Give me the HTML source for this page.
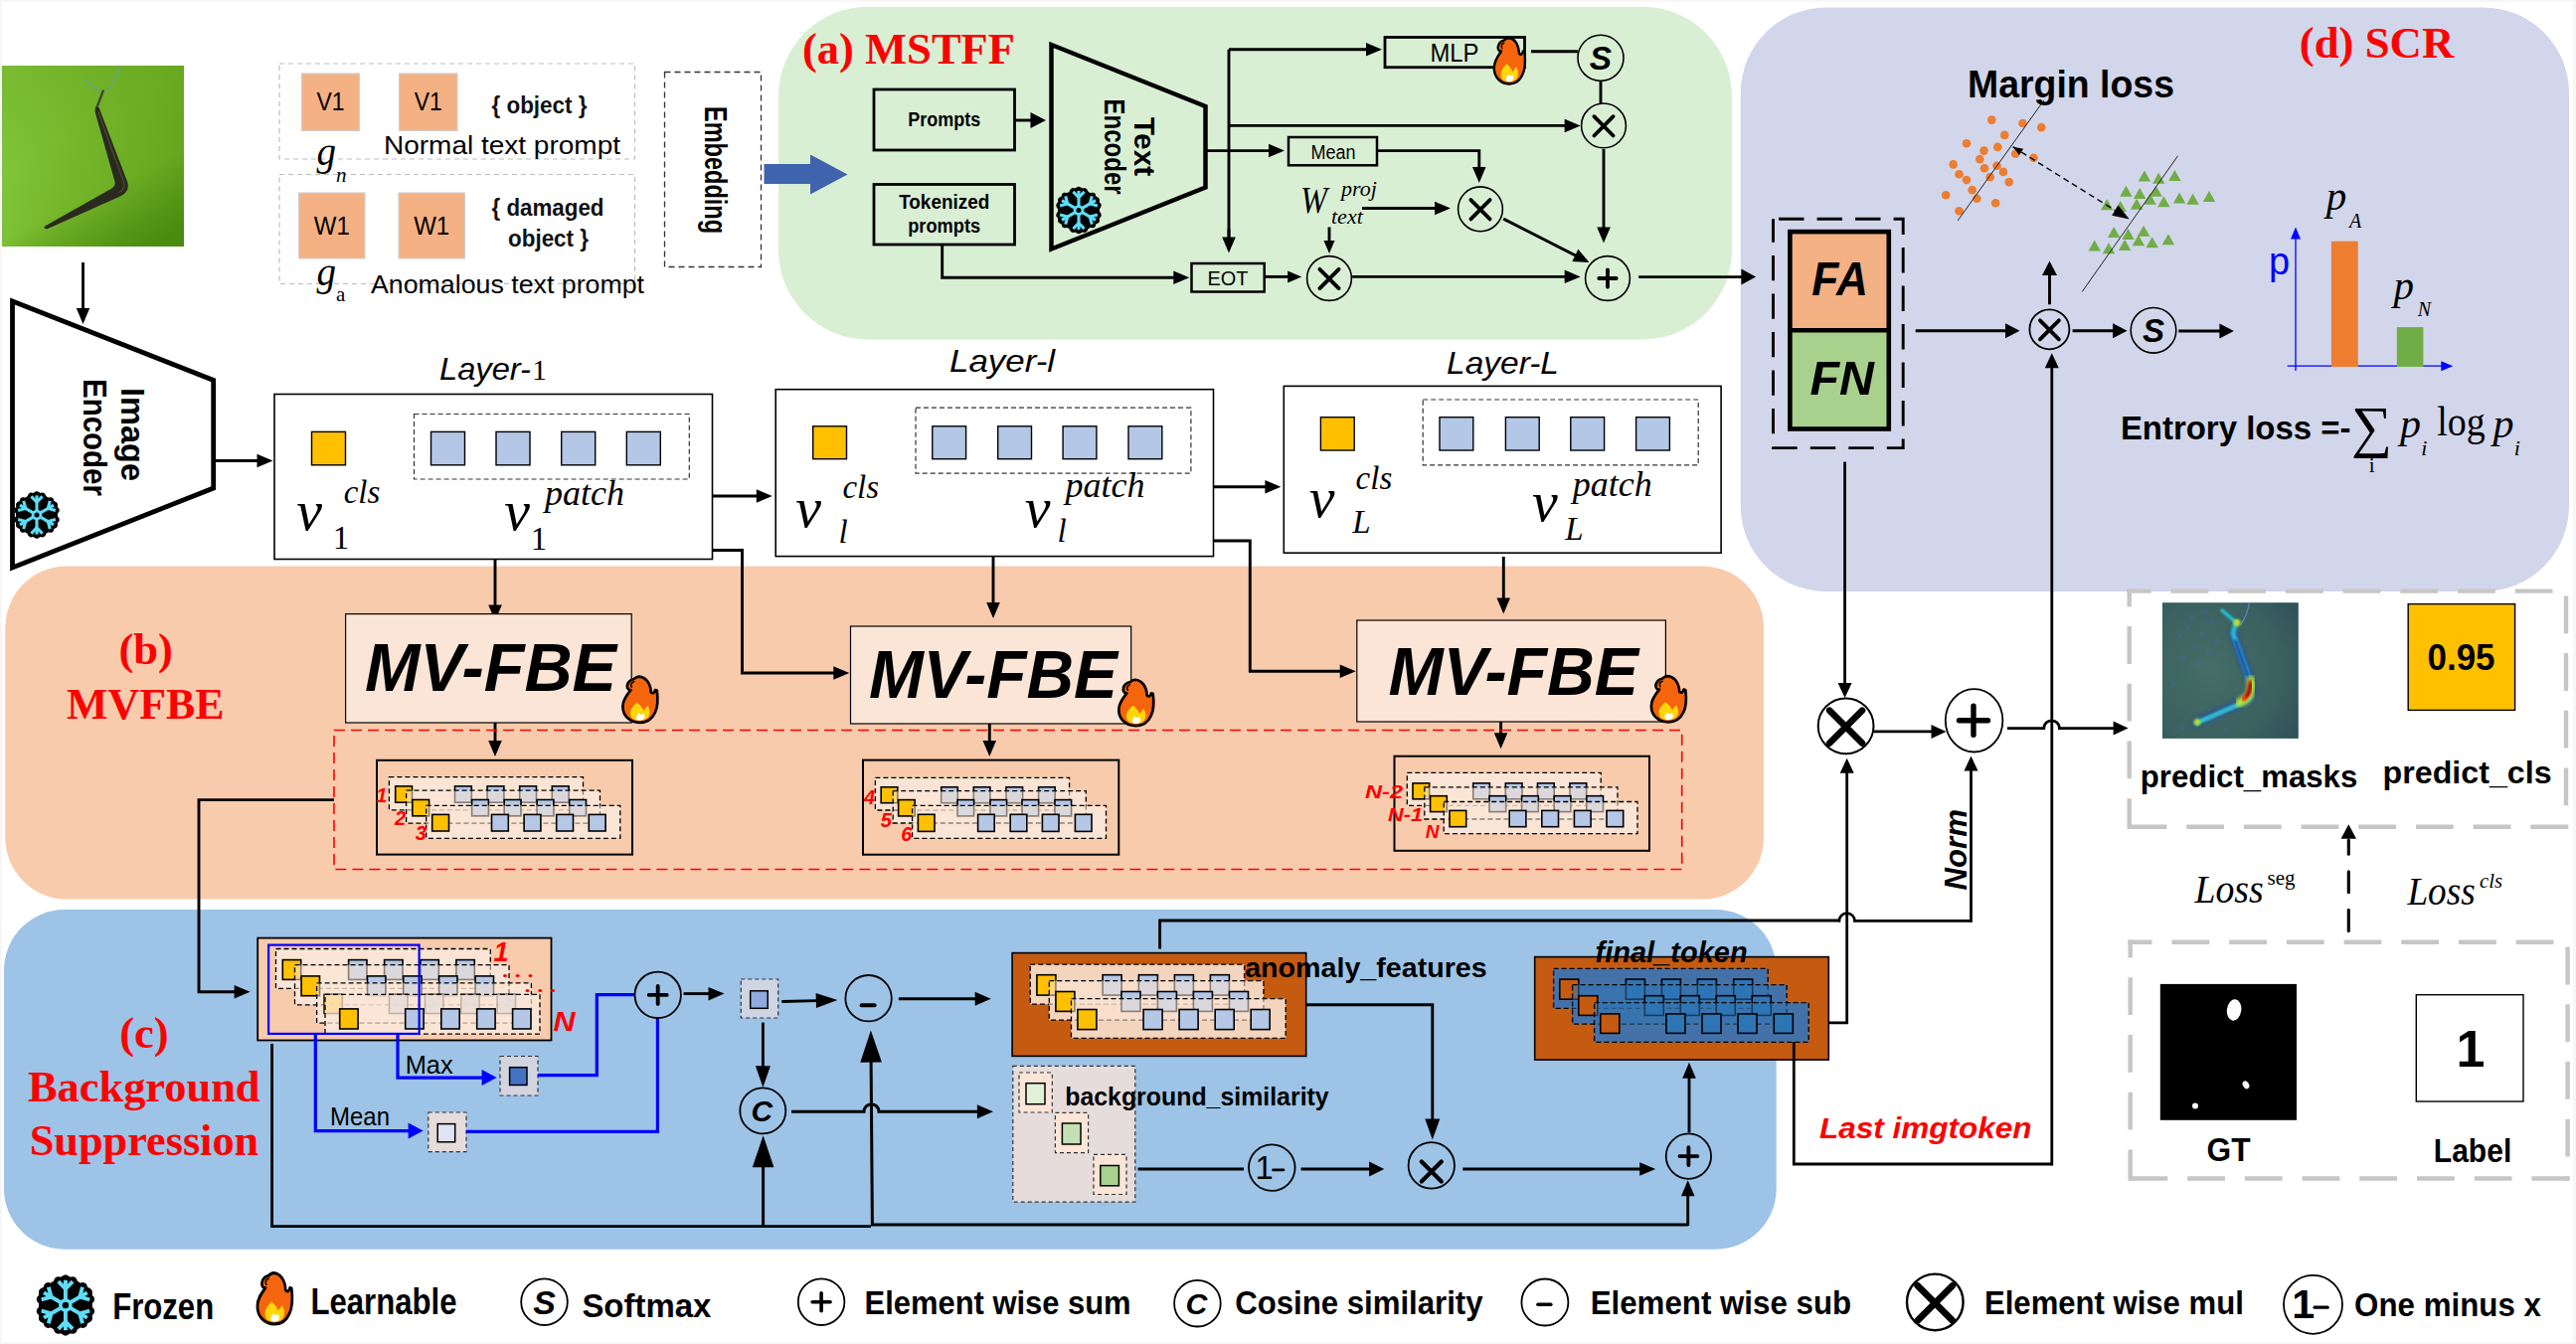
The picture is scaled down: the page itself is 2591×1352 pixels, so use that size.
<!DOCTYPE html>
<html><head><meta charset="utf-8"><title>Framework</title>
<style>
html,body{margin:0;padding:0;background:#fff;}
body{width:2591px;height:1352px;overflow:hidden;font-family:"Liberation Sans",sans-serif;}
svg{display:block}
</style></head><body>
<svg width="2591" height="1352" viewBox="0 0 2591 1352">
<defs>
<linearGradient id="gphoto" x1="0" y1="0.3" x2="1" y2="0.5">
<stop offset="0" stop-color="#84c63c"/><stop offset="0.45" stop-color="#74b52a"/><stop offset="1" stop-color="#66a61f"/>
</linearGradient>
<linearGradient id="gphoto2" x1="0.3" y1="0" x2="0.8" y2="1">
<stop offset="0" stop-color="#5a9a14" stop-opacity="0.25"/><stop offset="0.35" stop-color="#5a9a14" stop-opacity="0"/><stop offset="0.65" stop-color="#3f7f08" stop-opacity="0"/><stop offset="1" stop-color="#3f7f08" stop-opacity="0.7"/>
</linearGradient>
<radialGradient id="gheat" cx="0.35" cy="0.5" r="0.85">
<stop offset="0" stop-color="#456e66"/><stop offset="0.6" stop-color="#3b6160"/><stop offset="1" stop-color="#2d4e58"/>
</radialGradient>
<filter id="blur2" x="-20%" y="-20%" width="140%" height="140%"><feGaussianBlur stdDeviation="2.2"/></filter>
<filter id="blur1" x="-20%" y="-20%" width="140%" height="140%"><feGaussianBlur stdDeviation="1.1"/></filter>
</defs>
<rect x="0" y="0" width="2591" height="1352" fill="#ffffff" />
<rect x="0" y="0" width="1.8" height="1352" fill="#f6f6f6" />
<rect x="0" y="0" width="2591" height="1.8" fill="#f6f6f6" />
<rect x="2588.1" y="0" width="2.9" height="1352" fill="#f6f6f6" />
<rect x="0" y="1350" width="2591" height="2" fill="#f6f6f6" />
<rect x="783" y="6.7" width="959" height="334.9" fill="#d9efd4" rx="90" />
<rect x="1750.8" y="7.5" width="833.2" height="587.5" fill="#d2d6ea" rx="86" />
<rect x="5.3" y="569.4" width="1768.7" height="335.2" fill="#f8cbad" rx="62" />
<rect x="4" y="915" width="1782.7" height="341.7" fill="#9dc3e6" rx="61" />
<rect x="2" y="66" width="183" height="182" fill="url(#gphoto)" />
<rect x="2" y="66" width="183" height="182" fill="url(#gphoto2)" />
<g fill="none" stroke-linecap="round" stroke-linejoin="round">
<path d="M120.5 66.4 C118 76 113 86 106.8 92.4 M85.4 79.4 C90 85 96 90 102.2 92.4" stroke="#63a588" stroke-width="1.5"/>
<path d="M103.7 91.6 L97.4 108" stroke="#3a4a2c" stroke-width="2.4"/>
</g>
<path d="M96 108 L99.5 108 L128.2 183 C130 190 127.5 194 122 197 L47 230.5 L44 229 L46 227 L112.5 189.5 C116 187 116.3 184.5 115 181 L95.5 112 Z" fill="#2b2a1e"/>
<path d="M98.5 112 L124.5 183 C126 188 124 191 120 193.5" fill="none" stroke="#4a4a38" stroke-width="1.3"/>
<polygon points="83.5,326 76.8,310 90.2,310" fill="#000"/>
<polyline points="83.5,264 83.5,311" fill="none" stroke="#000" stroke-width="2.9" />
<polygon points="12.5,303 214.7,382.5 214.7,491 12.5,571" fill="#fff" stroke="#000" stroke-width="4.8" stroke-linejoin="miter"/>
<g transform="translate(134,437) rotate(90)">
<text x="-47" y="11.9" font-family='"Liberation Sans", sans-serif' font-size="33" font-weight="bold" font-style="normal" fill="#000" text-anchor="start" textLength="94" lengthAdjust="spacingAndGlyphs" >Image</text>
</g>
<g transform="translate(96,440) rotate(90)">
<text x="-59" y="11.9" font-family='"Liberation Sans", sans-serif' font-size="33" font-weight="bold" font-style="normal" fill="#000" text-anchor="start" textLength="118" lengthAdjust="spacingAndGlyphs" >Encoder</text>
</g>
<g transform="translate(37,518) scale(0.7)">
<polygon points="26.4,15.2 0,30.5 -26.4,15.2 -26.4,-15.3 -0,-30.5 26.4,-15.3" fill="#000" stroke="#000" stroke-width="7" stroke-linejoin="round"/>
<g transform="rotate(0)" stroke="#000" stroke-width="10" stroke-linecap="round" stroke-linejoin="round" fill="none">
<polyline points="-8,-27 0,-19 8,-27"/>
</g>
<g transform="rotate(60)" stroke="#000" stroke-width="10" stroke-linecap="round" stroke-linejoin="round" fill="none">
<polyline points="-8,-27 0,-19 8,-27"/>
</g>
<g transform="rotate(120)" stroke="#000" stroke-width="10" stroke-linecap="round" stroke-linejoin="round" fill="none">
<polyline points="-8,-27 0,-19 8,-27"/>
</g>
<g transform="rotate(180)" stroke="#000" stroke-width="10" stroke-linecap="round" stroke-linejoin="round" fill="none">
<polyline points="-8,-27 0,-19 8,-27"/>
</g>
<g transform="rotate(240)" stroke="#000" stroke-width="10" stroke-linecap="round" stroke-linejoin="round" fill="none">
<polyline points="-8,-27 0,-19 8,-27"/>
</g>
<g transform="rotate(300)" stroke="#000" stroke-width="10" stroke-linecap="round" stroke-linejoin="round" fill="none">
<polyline points="-8,-27 0,-19 8,-27"/>
</g>
<g transform="rotate(0)" stroke="#5fdcf6" stroke-width="4.4" stroke-linecap="butt" fill="none">
<line x1="0" y1="-6" x2="0" y2="-28"/>
<polyline points="-8,-26.5 0,-18.5 8,-26.5"/>
</g>
<g transform="rotate(60)" stroke="#5fdcf6" stroke-width="4.4" stroke-linecap="butt" fill="none">
<line x1="0" y1="-6" x2="0" y2="-28"/>
<polyline points="-8,-26.5 0,-18.5 8,-26.5"/>
</g>
<g transform="rotate(120)" stroke="#5fdcf6" stroke-width="4.4" stroke-linecap="butt" fill="none">
<line x1="0" y1="-6" x2="0" y2="-28"/>
<polyline points="-8,-26.5 0,-18.5 8,-26.5"/>
</g>
<g transform="rotate(180)" stroke="#5fdcf6" stroke-width="4.4" stroke-linecap="butt" fill="none">
<line x1="0" y1="-6" x2="0" y2="-28"/>
<polyline points="-8,-26.5 0,-18.5 8,-26.5"/>
</g>
<g transform="rotate(240)" stroke="#5fdcf6" stroke-width="4.4" stroke-linecap="butt" fill="none">
<line x1="0" y1="-6" x2="0" y2="-28"/>
<polyline points="-8,-26.5 0,-18.5 8,-26.5"/>
</g>
<g transform="rotate(300)" stroke="#5fdcf6" stroke-width="4.4" stroke-linecap="butt" fill="none">
<line x1="0" y1="-6" x2="0" y2="-28"/>
<polyline points="-8,-26.5 0,-18.5 8,-26.5"/>
</g>
<circle cx="0" cy="0" r="5.6" fill="none" stroke="#5fdcf6" stroke-width="4"/>
</g>
<polygon points="274.5,463.5 258.5,470.2 258.5,456.8" fill="#000"/>
<polyline points="216,463.5 259.5,463.5" fill="none" stroke="#000" stroke-width="2.9" />
<rect x="281" y="64" width="357.5" height="96" fill="none" stroke="#bdbdbd" stroke-width="1.2" stroke-dasharray="5 4" />
<rect x="281" y="175.5" width="357.5" height="110" fill="none" stroke="#bdbdbd" stroke-width="1.2" stroke-dasharray="5 4" />
<rect x="303.5" y="74" width="58" height="57.5" fill="#f4b183" stroke="#cfcfcf" stroke-width="1.2" />
<text x="332.5" y="111" font-family='"Liberation Sans", sans-serif' font-size="25" font-weight="normal" font-style="normal" fill="#000" text-anchor="middle" textLength="28" lengthAdjust="spacingAndGlyphs" >V1</text>
<rect x="401.5" y="74" width="58.5" height="57.5" fill="#f4b183" stroke="#cfcfcf" stroke-width="1.2" />
<text x="430.8" y="111" font-family='"Liberation Sans", sans-serif' font-size="25" font-weight="normal" font-style="normal" fill="#000" text-anchor="middle" textLength="28" lengthAdjust="spacingAndGlyphs" >V1</text>
<rect x="300.5" y="194" width="66.5" height="66" fill="#f4b183" stroke="#cfcfcf" stroke-width="1.2" />
<text x="333.8" y="236" font-family='"Liberation Sans", sans-serif' font-size="25" font-weight="normal" font-style="normal" fill="#000" text-anchor="middle" textLength="36" lengthAdjust="spacingAndGlyphs" >W1</text>
<rect x="401" y="194" width="66.5" height="66" fill="#f4b183" stroke="#cfcfcf" stroke-width="1.2" />
<text x="434.2" y="236" font-family='"Liberation Sans", sans-serif' font-size="25" font-weight="normal" font-style="normal" fill="#000" text-anchor="middle" textLength="36" lengthAdjust="spacingAndGlyphs" >W1</text>
<text x="494.5" y="114" font-family='"Liberation Sans", sans-serif' font-size="23" font-weight="bold" font-style="normal" fill="#111" text-anchor="start" textLength="96" lengthAdjust="spacingAndGlyphs" >{ object }</text>
<text x="386" y="155" font-family='"Liberation Sans", sans-serif' font-size="26" font-weight="normal" font-style="normal" fill="#000" text-anchor="start" textLength="238" lengthAdjust="spacingAndGlyphs" >Normal text prompt</text>
<text x="318.5" y="166" font-family='"Liberation Serif", serif' font-size="39" font-weight="normal" font-style="italic" fill="#000" text-anchor="start" >g</text>
<text x="338" y="183" font-family='"Liberation Serif", serif' font-size="21" font-weight="normal" font-style="italic" fill="#000" text-anchor="start" >n</text>
<text x="494.5" y="217" font-family='"Liberation Sans", sans-serif' font-size="23" font-weight="bold" font-style="normal" fill="#111" text-anchor="start" textLength="113" lengthAdjust="spacingAndGlyphs" >{ damaged</text>
<text x="511" y="248" font-family='"Liberation Sans", sans-serif' font-size="23" font-weight="bold" font-style="normal" fill="#111" text-anchor="start" textLength="81" lengthAdjust="spacingAndGlyphs" >object }</text>
<text x="318.5" y="287" font-family='"Liberation Serif", serif' font-size="39" font-weight="normal" font-style="italic" fill="#000" text-anchor="start" >g</text>
<text x="338" y="303" font-family='"Liberation Serif", serif' font-size="21" font-weight="normal" font-style="normal" fill="#000" text-anchor="start" >a</text>
<text x="373" y="295" font-family='"Liberation Sans", sans-serif' font-size="26" font-weight="normal" font-style="normal" fill="#000" text-anchor="start" textLength="275" lengthAdjust="spacingAndGlyphs" >Anomalous text prompt</text>
<rect x="668.5" y="72.5" width="97" height="196" fill="none" stroke="#333" stroke-width="1.3" stroke-dasharray="6 4" />
<g transform="translate(720.5,171) rotate(90)">
<text x="-64" y="11.2" font-family='"Liberation Sans", sans-serif' font-size="31" font-weight="bold" font-style="normal" fill="#000" text-anchor="start" textLength="128" lengthAdjust="spacingAndGlyphs" >Embedding</text>
</g>
<polygon points="768.5,165 815,165 815,155.5 852.5,175.5 815,195.5 815,185 768.5,185" fill="#3f63ad"/>
<text x="807" y="64.3" font-family='"Liberation Serif", serif' font-size="44.5" font-weight="bold" font-style="normal" fill="#ff0000" text-anchor="start" textLength="214" lengthAdjust="spacingAndGlyphs" >(a) MSTFF</text>
<rect x="879" y="90" width="141.5" height="61" fill="none" stroke="#000" stroke-width="2.8" />
<text x="949.7" y="126.5" font-family='"Liberation Sans", sans-serif' font-size="20" font-weight="bold" font-style="normal" fill="#000" text-anchor="middle" textLength="73" lengthAdjust="spacingAndGlyphs" >Prompts</text>
<rect x="879" y="185.5" width="141.5" height="60.5" fill="none" stroke="#000" stroke-width="2.8" />
<text x="949.7" y="209.5" font-family='"Liberation Sans", sans-serif' font-size="20" font-weight="bold" font-style="normal" fill="#000" text-anchor="middle" textLength="91" lengthAdjust="spacingAndGlyphs" >Tokenized</text>
<text x="949.7" y="234" font-family='"Liberation Sans", sans-serif' font-size="20" font-weight="bold" font-style="normal" fill="#000" text-anchor="middle" textLength="73" lengthAdjust="spacingAndGlyphs" >prompts</text>
<polygon points="1052,121 1036.5,129 1036.5,113" fill="#000"/>
<polyline points="1021,121 1037.5,121" fill="none" stroke="#000" stroke-width="2.9" />
<polygon points="1057.5,45 1212.5,107 1212.5,188.5 1057.5,250.5" fill="none" stroke="#000" stroke-width="4.5"/>
<g transform="translate(1151.5,147.6) rotate(90)">
<text x="-29.5" y="10.4" font-family='"Liberation Sans", sans-serif' font-size="29" font-weight="bold" font-style="normal" fill="#000" text-anchor="start" textLength="59" lengthAdjust="spacingAndGlyphs" >Text</text>
</g>
<g transform="translate(1121,147.6) rotate(90)">
<text x="-48" y="10.4" font-family='"Liberation Sans", sans-serif' font-size="29" font-weight="bold" font-style="normal" fill="#000" text-anchor="start" textLength="96" lengthAdjust="spacingAndGlyphs" >Encoder</text>
</g>
<g transform="translate(1085,211.5) scale(0.7)">
<polygon points="26.4,15.2 0,30.5 -26.4,15.2 -26.4,-15.3 -0,-30.5 26.4,-15.3" fill="#000" stroke="#000" stroke-width="7" stroke-linejoin="round"/>
<g transform="rotate(0)" stroke="#000" stroke-width="10" stroke-linecap="round" stroke-linejoin="round" fill="none">
<polyline points="-8,-27 0,-19 8,-27"/>
</g>
<g transform="rotate(60)" stroke="#000" stroke-width="10" stroke-linecap="round" stroke-linejoin="round" fill="none">
<polyline points="-8,-27 0,-19 8,-27"/>
</g>
<g transform="rotate(120)" stroke="#000" stroke-width="10" stroke-linecap="round" stroke-linejoin="round" fill="none">
<polyline points="-8,-27 0,-19 8,-27"/>
</g>
<g transform="rotate(180)" stroke="#000" stroke-width="10" stroke-linecap="round" stroke-linejoin="round" fill="none">
<polyline points="-8,-27 0,-19 8,-27"/>
</g>
<g transform="rotate(240)" stroke="#000" stroke-width="10" stroke-linecap="round" stroke-linejoin="round" fill="none">
<polyline points="-8,-27 0,-19 8,-27"/>
</g>
<g transform="rotate(300)" stroke="#000" stroke-width="10" stroke-linecap="round" stroke-linejoin="round" fill="none">
<polyline points="-8,-27 0,-19 8,-27"/>
</g>
<g transform="rotate(0)" stroke="#5fdcf6" stroke-width="4.4" stroke-linecap="butt" fill="none">
<line x1="0" y1="-6" x2="0" y2="-28"/>
<polyline points="-8,-26.5 0,-18.5 8,-26.5"/>
</g>
<g transform="rotate(60)" stroke="#5fdcf6" stroke-width="4.4" stroke-linecap="butt" fill="none">
<line x1="0" y1="-6" x2="0" y2="-28"/>
<polyline points="-8,-26.5 0,-18.5 8,-26.5"/>
</g>
<g transform="rotate(120)" stroke="#5fdcf6" stroke-width="4.4" stroke-linecap="butt" fill="none">
<line x1="0" y1="-6" x2="0" y2="-28"/>
<polyline points="-8,-26.5 0,-18.5 8,-26.5"/>
</g>
<g transform="rotate(180)" stroke="#5fdcf6" stroke-width="4.4" stroke-linecap="butt" fill="none">
<line x1="0" y1="-6" x2="0" y2="-28"/>
<polyline points="-8,-26.5 0,-18.5 8,-26.5"/>
</g>
<g transform="rotate(240)" stroke="#5fdcf6" stroke-width="4.4" stroke-linecap="butt" fill="none">
<line x1="0" y1="-6" x2="0" y2="-28"/>
<polyline points="-8,-26.5 0,-18.5 8,-26.5"/>
</g>
<g transform="rotate(300)" stroke="#5fdcf6" stroke-width="4.4" stroke-linecap="butt" fill="none">
<line x1="0" y1="-6" x2="0" y2="-28"/>
<polyline points="-8,-26.5 0,-18.5 8,-26.5"/>
</g>
<circle cx="0" cy="0" r="5.6" fill="none" stroke="#5fdcf6" stroke-width="4"/>
</g>
<polygon points="1292,151.6 1276,158.3 1276,144.8" fill="#000"/>
<polyline points="1213,151.6 1277,151.6" fill="none" stroke="#000" stroke-width="2.9" />
<polyline points="1236,49.7 1236,240" fill="none" stroke="#000" stroke-width="2.9" />
<polygon points="1236,254.6 1229.2,238.6 1242.8,238.6" fill="#000"/>
<polyline points="1236,230 1236,239.6" fill="none" stroke="#000" stroke-width="2.9" />
<polygon points="1390,49.7 1374,56.5 1374,43" fill="#000"/>
<polyline points="1236,49.7 1375,49.7" fill="none" stroke="#000" stroke-width="2.9" />
<polygon points="1589.7,126.4 1573.7,133.2 1573.7,119.7" fill="#000"/>
<polyline points="1236,126.4 1574.7,126.4" fill="none" stroke="#000" stroke-width="2.9" />
<rect x="1393" y="37.5" width="140.5" height="30.2" fill="none" stroke="#000" stroke-width="2.8" />
<text x="1463" y="62" font-family='"Liberation Sans", sans-serif' font-size="25" font-weight="normal" font-style="normal" fill="#000" text-anchor="middle" textLength="49" lengthAdjust="spacingAndGlyphs" >MLP</text>
<g transform="translate(1518,61) scale(0.8,0.9) translate(-20,-27)">
<path d="M19 1.5 C27 2 32 9 32.5 19 C34.5 21 36.5 20 37.3 16.5 L39.2 17 C40.5 27 40 36 37 42 C33.5 49.5 27 53 20 53 C9 53 1 45.5 1 35 C1 27 6 21.5 10 16.5 C7.5 17 5.5 14.5 6 11.5 C6.5 7.5 10 4.8 13 4.5 C15 3 17 1.5 19 1.5 Z" fill="#f5650e" stroke="#000" stroke-width="3" stroke-linejoin="round"/>
<path d="M13.5 7.2 C10.5 8 9.3 11 11 13.2" fill="none" stroke="#000" stroke-width="1.7" stroke-linecap="round"/>
<path d="M17 30.5 C20 33 22.5 35.5 24.5 39.5 C26 37 27.5 36 28.8 34 C32 39 32 45 28 48.5 C24 51.5 15.5 51.5 11.5 48 C7.5 43 9.5 36 17 30.5 Z" fill="#ffd60a"/>
<path d="M19 42.5 C21 44.5 23 44.5 24 42.5 C27 46.5 25 50.5 20 50.5 C15 50.5 15 45.5 19 42.5 Z" fill="#fff"/>
</g>
<polyline points="1540,51.8 1587,51.8" fill="none" stroke="#000" stroke-width="2.9" />
<circle cx="1610" cy="58.3" r="23" fill="none" stroke="#000" stroke-width="1.6"/>
<text x="1610" y="70.3" font-family='"Liberation Sans", sans-serif' font-size="33.4" font-weight="bold" font-style="italic" fill="#000" text-anchor="middle" >S</text>
<polyline points="1610,81.5 1610,104" fill="none" stroke="#000" stroke-width="2.9" />
<circle cx="1613" cy="126.4" r="22.4" fill="none" stroke="#000" stroke-width="1.6"/>
<path d="M1603.4 117.2 L1622.6 136.5 M1622.6 117.2 L1603.4 136.5" stroke="#000" stroke-width="3.8" stroke-linecap="round" fill="none"/>
<rect x="1296" y="138" width="89" height="28.3" fill="none" stroke="#000" stroke-width="2.5" />
<text x="1341" y="159.5" font-family='"Liberation Sans", sans-serif' font-size="20" font-weight="normal" font-style="normal" fill="#000" text-anchor="middle" textLength="45" lengthAdjust="spacingAndGlyphs" >Mean</text>
<polygon points="1487.8,184 1481,168 1494.5,168" fill="#000"/>
<polyline points="1385,151.6 1487.8,151.6 1487.8,169" fill="none" stroke="#000" stroke-width="2.9" />
<circle cx="1489" cy="210.3" r="22.4" fill="none" stroke="#000" stroke-width="1.6"/>
<path d="M1479.4 201.1 L1498.6 220.4 M1498.6 201.1 L1479.4 220.4" stroke="#000" stroke-width="3.8" stroke-linecap="round" fill="none"/>
<text x="1308" y="214" font-family='"Liberation Serif", serif' font-size="37" font-weight="normal" font-style="italic" fill="#000" text-anchor="start" textLength="27" lengthAdjust="spacingAndGlyphs" >W</text>
<text x="1349" y="197" font-family='"Liberation Serif", serif' font-size="22" font-weight="normal" font-style="italic" fill="#000" text-anchor="start" >proj</text>
<text x="1339" y="225" font-family='"Liberation Serif", serif' font-size="22" font-weight="normal" font-style="italic" fill="#000" text-anchor="start" >text</text>
<polygon points="1459,209.5 1443,216.2 1443,202.8" fill="#000"/>
<polyline points="1370,209.5 1444,209.5" fill="none" stroke="#000" stroke-width="2.9" />
<polygon points="1337,255 1331.5,242 1342.5,242" fill="#000"/>
<polyline points="1337,228.5 1337,243" fill="none" stroke="#000" stroke-width="2.9" />
<circle cx="1337" cy="280" r="22.4" fill="none" stroke="#000" stroke-width="1.6"/>
<path d="M1327.4 270.8 L1346.6 290.1 M1346.6 270.8 L1327.4 290.1" stroke="#000" stroke-width="3.8" stroke-linecap="round" fill="none"/>
<rect x="1198.5" y="265" width="73.2" height="28.5" fill="none" stroke="#000" stroke-width="2.5" />
<text x="1235" y="286.5" font-family='"Liberation Sans", sans-serif' font-size="21" font-weight="normal" font-style="normal" fill="#000" text-anchor="middle" textLength="41" lengthAdjust="spacingAndGlyphs" >EOT</text>
<polygon points="1196.3,279.2 1180.3,285.9 1180.3,272.4" fill="#000"/>
<polyline points="947.7,246 947.7,279.2 1181.3,279.2" fill="none" stroke="#000" stroke-width="2.9" />
<polygon points="1309.2,278.4 1295.2,284.4 1295.2,272.4" fill="#000"/>
<polyline points="1273,278.4 1296.2,278.4" fill="none" stroke="#000" stroke-width="2.9" />
<polygon points="1589.7,278.4 1573.7,285.1 1573.7,271.6" fill="#000"/>
<polyline points="1360.2,278.4 1574.7,278.4" fill="none" stroke="#000" stroke-width="2.9" />
<circle cx="1617" cy="280" r="22.4" fill="none" stroke="#000" stroke-width="1.6"/>
<path d="M1608.3 280 L1625.7 280 M1617 271.3 L1617 288.7" stroke="#000" stroke-width="3.8" stroke-linecap="round" fill="none"/>
<polygon points="1613,244.6 1606.2,228.6 1619.8,228.6" fill="#000"/>
<polyline points="1613,150 1613,229.6" fill="none" stroke="#000" stroke-width="2.9" />
<polygon points="1598.6,264.1 1581.3,262.9 1587.4,250.8" fill="#000"/>
<polyline points="1512.2,220.1 1585.2,257.3" fill="none" stroke="#000" stroke-width="2.9" />
<polygon points="1766.1,278.6 1751.4,286.6 1751.4,270.6" fill="#000"/>
<polyline points="1648.2,278.6 1752.4,278.6" fill="none" stroke="#000" stroke-width="2.9" />
<text x="442" y="381.5" font-family='"Liberation Sans", sans-serif' font-size="32" font-weight="normal" font-style="italic" fill="#000" text-anchor="start" textLength="92" lengthAdjust="spacingAndGlyphs" >Layer-</text>
<text x="535" y="381.5" font-family='"Liberation Serif", serif' font-size="30" font-weight="normal" font-style="normal" fill="#000" text-anchor="start" >1</text>
<rect x="276" y="396.5" width="440.5" height="166" fill="#fff" stroke="#000" stroke-width="1.6" />
<rect x="313.5" y="434.4" width="34" height="33.4" fill="#ffc000" stroke="#000" stroke-width="1.4" />
<rect x="416.5" y="416.5" width="276.8" height="65.5" fill="none" stroke="#333" stroke-width="1.2" stroke-dasharray="5 3" />
<rect x="433.5" y="434.4" width="34" height="33.4" fill="#b4c7e7" stroke="#000" stroke-width="1.4" />
<rect x="499" y="434.4" width="34" height="33.4" fill="#b4c7e7" stroke="#000" stroke-width="1.4" />
<rect x="564.7" y="434.4" width="34" height="33.4" fill="#b4c7e7" stroke="#000" stroke-width="1.4" />
<rect x="630.3" y="434.4" width="34" height="33.4" fill="#b4c7e7" stroke="#000" stroke-width="1.4" />
<text x="311" y="533" font-family='"Liberation Serif", serif' font-size="58" font-weight="normal" font-style="italic" fill="#000" text-anchor="middle" >v</text>
<text x="364" y="506" font-family='"Liberation Serif", serif' font-size="33" font-weight="normal" font-style="italic" fill="#000" text-anchor="middle" >cls</text>
<text x="343" y="552" font-family='"Liberation Serif", serif' font-size="33" font-weight="normal" font-style="normal" fill="#000" text-anchor="middle" >1</text>
<text x="520" y="533" font-family='"Liberation Serif", serif' font-size="58" font-weight="normal" font-style="italic" fill="#000" text-anchor="middle" >v</text>
<text x="588" y="508" font-family='"Liberation Serif", serif' font-size="35" font-weight="normal" font-style="italic" fill="#000" text-anchor="middle" textLength="80" lengthAdjust="spacingAndGlyphs" >patch</text>
<text x="542" y="553" font-family='"Liberation Serif", serif' font-size="33" font-weight="normal" font-style="normal" fill="#000" text-anchor="middle" >1</text>
<polygon points="776.8,499 760.8,505.8 760.8,492.2" fill="#000"/>
<polyline points="716.5,499 761.8,499" fill="none" stroke="#000" stroke-width="2.9" />
<text x="955" y="374" font-family='"Liberation Sans", sans-serif' font-size="32" font-weight="normal" font-style="italic" fill="#000" text-anchor="start" textLength="106" lengthAdjust="spacingAndGlyphs" >Layer-l</text>
<rect x="780.2" y="391.7" width="440.3" height="167.9" fill="#fff" stroke="#000" stroke-width="1.6" />
<rect x="817.7" y="428.8" width="33.8" height="32.9" fill="#ffc000" stroke="#000" stroke-width="1.4" />
<rect x="921" y="410.2" width="276.9" height="65.9" fill="none" stroke="#333" stroke-width="1.2" stroke-dasharray="5 3" />
<rect x="937.8" y="428.8" width="33.8" height="32.9" fill="#b4c7e7" stroke="#000" stroke-width="1.4" />
<rect x="1003.7" y="428.8" width="33.8" height="32.9" fill="#b4c7e7" stroke="#000" stroke-width="1.4" />
<rect x="1069.1" y="428.8" width="33.8" height="32.9" fill="#b4c7e7" stroke="#000" stroke-width="1.4" />
<rect x="1135" y="428.8" width="33.8" height="32.9" fill="#b4c7e7" stroke="#000" stroke-width="1.4" />
<text x="813" y="530" font-family='"Liberation Serif", serif' font-size="58" font-weight="normal" font-style="italic" fill="#000" text-anchor="middle" >v</text>
<text x="865.8" y="501" font-family='"Liberation Serif", serif' font-size="33" font-weight="normal" font-style="italic" fill="#000" text-anchor="middle" >cls</text>
<text x="848" y="546" font-family='"Liberation Serif", serif' font-size="33" font-weight="normal" font-style="italic" fill="#000" text-anchor="middle" >l</text>
<text x="1043.6" y="530" font-family='"Liberation Serif", serif' font-size="58" font-weight="normal" font-style="italic" fill="#000" text-anchor="middle" >v</text>
<text x="1111.5" y="500" font-family='"Liberation Serif", serif' font-size="35" font-weight="normal" font-style="italic" fill="#000" text-anchor="middle" textLength="80" lengthAdjust="spacingAndGlyphs" >patch</text>
<text x="1068" y="545" font-family='"Liberation Serif", serif' font-size="33" font-weight="normal" font-style="italic" fill="#000" text-anchor="middle" >l</text>
<polygon points="1288.4,489.7 1272.4,496.4 1272.4,482.9" fill="#000"/>
<polyline points="1220.5,489.7 1273.4,489.7" fill="none" stroke="#000" stroke-width="2.9" />
<text x="1455" y="375.5" font-family='"Liberation Sans", sans-serif' font-size="32" font-weight="normal" font-style="italic" fill="#000" text-anchor="start" textLength="113" lengthAdjust="spacingAndGlyphs" >Layer-L</text>
<rect x="1291.3" y="388.4" width="439.8" height="167.8" fill="#fff" stroke="#000" stroke-width="1.6" />
<rect x="1328.4" y="419.7" width="33.8" height="33.3" fill="#ffc000" stroke="#000" stroke-width="1.4" />
<rect x="1431.2" y="402" width="277" height="65.9" fill="none" stroke="#333" stroke-width="1.2" stroke-dasharray="5 3" />
<rect x="1448" y="419.7" width="33.8" height="33.3" fill="#b4c7e7" stroke="#000" stroke-width="1.4" />
<rect x="1514.4" y="419.7" width="33.8" height="33.3" fill="#b4c7e7" stroke="#000" stroke-width="1.4" />
<rect x="1579.8" y="419.7" width="33.8" height="33.3" fill="#b4c7e7" stroke="#000" stroke-width="1.4" />
<rect x="1645.6" y="419.7" width="33.8" height="33.3" fill="#b4c7e7" stroke="#000" stroke-width="1.4" />
<text x="1329.6" y="520" font-family='"Liberation Serif", serif' font-size="58" font-weight="normal" font-style="italic" fill="#000" text-anchor="middle" >v</text>
<text x="1381.9" y="492" font-family='"Liberation Serif", serif' font-size="33" font-weight="normal" font-style="italic" fill="#000" text-anchor="middle" >cls</text>
<text x="1369.5" y="536" font-family='"Liberation Serif", serif' font-size="33" font-weight="normal" font-style="italic" fill="#000" text-anchor="middle" >L</text>
<text x="1553.9" y="524" font-family='"Liberation Serif", serif' font-size="58" font-weight="normal" font-style="italic" fill="#000" text-anchor="middle" >v</text>
<text x="1621.8" y="499" font-family='"Liberation Serif", serif' font-size="35" font-weight="normal" font-style="italic" fill="#000" text-anchor="middle" textLength="80" lengthAdjust="spacingAndGlyphs" >patch</text>
<text x="1583.5" y="543" font-family='"Liberation Serif", serif' font-size="33" font-weight="normal" font-style="italic" fill="#000" text-anchor="middle" >L</text>
<polygon points="498,624.5 491.2,608.5 504.8,608.5" fill="#000"/>
<polyline points="498,562.5 498,609.5" fill="none" stroke="#000" stroke-width="2.9" />
<polygon points="999,622 992.2,606 1005.8,606" fill="#000"/>
<polyline points="999,559.6 999,607" fill="none" stroke="#000" stroke-width="2.9" />
<polygon points="1512.3,617.5 1505.5,601.5 1519,601.5" fill="#000"/>
<polyline points="1512.3,560 1512.3,602.5" fill="none" stroke="#000" stroke-width="2.9" />
<polygon points="854.3,677 838.3,683.8 838.3,670.2" fill="#000"/>
<polyline points="716.5,553.5 746.5,553.5 746.5,677 839.3,677" fill="none" stroke="#000" stroke-width="2.9" />
<polygon points="1363.7,675.3 1347.7,682 1347.7,668.5" fill="#000"/>
<polyline points="1220.5,544 1257.3,544 1257.3,675.3 1348.7,675.3" fill="none" stroke="#000" stroke-width="2.9" />
<text x="146.7" y="668" font-family='"Liberation Serif", serif' font-size="44.5" font-weight="bold" font-style="normal" fill="#ff0000" text-anchor="middle" >(b)</text>
<text x="67" y="722.5" font-family='"Liberation Serif", serif' font-size="44.5" font-weight="bold" font-style="normal" fill="#ff0000" text-anchor="start" textLength="158.5" lengthAdjust="spacingAndGlyphs" >MVFBE</text>
<rect x="347.6" y="617.6" width="287.6" height="109.4" fill="#fbe5d6" stroke="#000" stroke-width="1.2" />
<text x="367" y="694.5" font-family='"Liberation Sans", sans-serif' font-size="69" font-weight="bold" font-style="italic" fill="#000" text-anchor="start" textLength="253" lengthAdjust="spacingAndGlyphs" >MV-FBE</text>
<rect x="855.5" y="630" width="282.2" height="98" fill="#fbe5d6" stroke="#000" stroke-width="1.2" />
<text x="874" y="701.5" font-family='"Liberation Sans", sans-serif' font-size="69" font-weight="bold" font-style="italic" fill="#000" text-anchor="start" textLength="250" lengthAdjust="spacingAndGlyphs" >MV-FBE</text>
<rect x="1364.8" y="624" width="310.6" height="102" fill="#fbe5d6" stroke="#000" stroke-width="1.2" />
<text x="1396.5" y="699" font-family='"Liberation Sans", sans-serif' font-size="69" font-weight="bold" font-style="italic" fill="#000" text-anchor="start" textLength="251.5" lengthAdjust="spacingAndGlyphs" >MV-FBE</text>
<g transform="translate(643.5,703.5) scale(0.9,0.9) translate(-20,-27)">
<path d="M19 1.5 C27 2 32 9 32.5 19 C34.5 21 36.5 20 37.3 16.5 L39.2 17 C40.5 27 40 36 37 42 C33.5 49.5 27 53 20 53 C9 53 1 45.5 1 35 C1 27 6 21.5 10 16.5 C7.5 17 5.5 14.5 6 11.5 C6.5 7.5 10 4.8 13 4.5 C15 3 17 1.5 19 1.5 Z" fill="#f5650e" stroke="#000" stroke-width="3" stroke-linejoin="round"/>
<path d="M13.5 7.2 C10.5 8 9.3 11 11 13.2" fill="none" stroke="#000" stroke-width="1.7" stroke-linecap="round"/>
<path d="M17 30.5 C20 33 22.5 35.5 24.5 39.5 C26 37 27.5 36 28.8 34 C32 39 32 45 28 48.5 C24 51.5 15.5 51.5 11.5 48 C7.5 43 9.5 36 17 30.5 Z" fill="#ffd60a"/>
<path d="M19 42.5 C21 44.5 23 44.5 24 42.5 C27 46.5 25 50.5 20 50.5 C15 50.5 15 45.5 19 42.5 Z" fill="#fff"/>
</g>
<g transform="translate(1142.4,706.7) scale(0.9,0.9) translate(-20,-27)">
<path d="M19 1.5 C27 2 32 9 32.5 19 C34.5 21 36.5 20 37.3 16.5 L39.2 17 C40.5 27 40 36 37 42 C33.5 49.5 27 53 20 53 C9 53 1 45.5 1 35 C1 27 6 21.5 10 16.5 C7.5 17 5.5 14.5 6 11.5 C6.5 7.5 10 4.8 13 4.5 C15 3 17 1.5 19 1.5 Z" fill="#f5650e" stroke="#000" stroke-width="3" stroke-linejoin="round"/>
<path d="M13.5 7.2 C10.5 8 9.3 11 11 13.2" fill="none" stroke="#000" stroke-width="1.7" stroke-linecap="round"/>
<path d="M17 30.5 C20 33 22.5 35.5 24.5 39.5 C26 37 27.5 36 28.8 34 C32 39 32 45 28 48.5 C24 51.5 15.5 51.5 11.5 48 C7.5 43 9.5 36 17 30.5 Z" fill="#ffd60a"/>
<path d="M19 42.5 C21 44.5 23 44.5 24 42.5 C27 46.5 25 50.5 20 50.5 C15 50.5 15 45.5 19 42.5 Z" fill="#fff"/>
</g>
<g transform="translate(1678,703) scale(0.9,0.9) translate(-20,-27)">
<path d="M19 1.5 C27 2 32 9 32.5 19 C34.5 21 36.5 20 37.3 16.5 L39.2 17 C40.5 27 40 36 37 42 C33.5 49.5 27 53 20 53 C9 53 1 45.5 1 35 C1 27 6 21.5 10 16.5 C7.5 17 5.5 14.5 6 11.5 C6.5 7.5 10 4.8 13 4.5 C15 3 17 1.5 19 1.5 Z" fill="#f5650e" stroke="#000" stroke-width="3" stroke-linejoin="round"/>
<path d="M13.5 7.2 C10.5 8 9.3 11 11 13.2" fill="none" stroke="#000" stroke-width="1.7" stroke-linecap="round"/>
<path d="M17 30.5 C20 33 22.5 35.5 24.5 39.5 C26 37 27.5 36 28.8 34 C32 39 32 45 28 48.5 C24 51.5 15.5 51.5 11.5 48 C7.5 43 9.5 36 17 30.5 Z" fill="#ffd60a"/>
<path d="M19 42.5 C21 44.5 23 44.5 24 42.5 C27 46.5 25 50.5 20 50.5 C15 50.5 15 45.5 19 42.5 Z" fill="#fff"/>
</g>
<polygon points="498,761 491.2,745 504.8,745" fill="#000"/>
<polyline points="498,727 498,746" fill="none" stroke="#000" stroke-width="2.9" />
<polygon points="995.3,761 988.5,745 1002,745" fill="#000"/>
<polyline points="995.3,728 995.3,746" fill="none" stroke="#000" stroke-width="2.9" />
<polygon points="1509.6,753.3 1502.8,737.3 1516.3,737.3" fill="#000"/>
<polyline points="1509.6,726 1509.6,738.3" fill="none" stroke="#000" stroke-width="2.9" />
<rect x="336" y="734.5" width="1355.7" height="140" fill="none" stroke="#ff0000" stroke-width="1.6" stroke-dasharray="11 6" />
<rect x="379" y="764.8" width="257" height="94.8" fill="none" stroke="#000" stroke-width="2" />
<rect x="391.4" y="781.6" width="195.1" height="33.2" fill="#f9e3d4"/>
<rect x="408.6" y="795.2" width="194.9" height="33" fill="#f9e3d4"/>
<rect x="428.7" y="810.4" width="195.1" height="33" fill="#f9e3d4"/>
<rect x="391.4" y="781.6" width="195.1" height="33.2" fill="#fbe5d6" fill-opacity="0.55" stroke="#000" stroke-width="1.3" stroke-dasharray="5 3"/>
<g opacity="1.0">
<rect x="397.7" y="790.9" width="16.8" height="16.3" fill="#ffc000" stroke="#000" stroke-width="1.6" />
<rect x="457.5" y="790.9" width="16.8" height="16.3" fill="#b4c7e7" stroke="#000" stroke-width="1.6" />
<rect x="490.1" y="790.9" width="16.8" height="16.3" fill="#b4c7e7" stroke="#000" stroke-width="1.6" />
<rect x="522.7" y="790.9" width="16.8" height="16.3" fill="#b4c7e7" stroke="#000" stroke-width="1.6" />
<rect x="555.3" y="790.9" width="16.8" height="16.3" fill="#b4c7e7" stroke="#000" stroke-width="1.6" />
</g>
<rect x="408.6" y="795.2" width="194.9" height="33" fill="#fbe5d6" fill-opacity="0.55" stroke="#000" stroke-width="1.3" stroke-dasharray="5 3"/>
<g opacity="1.0">
<rect x="414.8" y="804.5" width="16.8" height="16.3" fill="#ffc000" stroke="#000" stroke-width="1.6" />
<rect x="474.6" y="804.5" width="16.8" height="16.3" fill="#b4c7e7" stroke="#000" stroke-width="1.6" />
<rect x="507.2" y="804.5" width="16.8" height="16.3" fill="#b4c7e7" stroke="#000" stroke-width="1.6" />
<rect x="540.1" y="804.5" width="16.8" height="16.3" fill="#b4c7e7" stroke="#000" stroke-width="1.6" />
<rect x="572.7" y="804.5" width="16.8" height="16.3" fill="#b4c7e7" stroke="#000" stroke-width="1.6" />
</g>
<rect x="428.7" y="810.4" width="195.1" height="33" fill="#fbe5d6" fill-opacity="0.55" stroke="#000" stroke-width="1.3" stroke-dasharray="5 3"/>
<g opacity="1.0">
<rect x="434.7" y="819.4" width="16.8" height="16.6" fill="#ffc000" stroke="#000" stroke-width="1.6" />
<rect x="494.5" y="819.4" width="16.8" height="16.6" fill="#b4c7e7" stroke="#000" stroke-width="1.6" />
<rect x="527.1" y="819.4" width="16.8" height="16.6" fill="#b4c7e7" stroke="#000" stroke-width="1.6" />
<rect x="559.7" y="819.4" width="16.8" height="16.6" fill="#b4c7e7" stroke="#000" stroke-width="1.6" />
<rect x="592.3" y="819.4" width="16.8" height="16.6" fill="#b4c7e7" stroke="#000" stroke-width="1.6" />
</g>
<text x="383.8" y="806.5" font-family='"Liberation Sans", sans-serif' font-size="20" font-weight="bold" font-style="italic" fill="#ff0000" text-anchor="middle" >1</text>
<text x="402.6" y="830" font-family='"Liberation Sans", sans-serif' font-size="20" font-weight="bold" font-style="italic" fill="#ff0000" text-anchor="middle" >2</text>
<text x="423.3" y="845.2" font-family='"Liberation Sans", sans-serif' font-size="20" font-weight="bold" font-style="italic" fill="#ff0000" text-anchor="middle" >3</text>
<rect x="868" y="764.6" width="257.3" height="95.1" fill="none" stroke="#000" stroke-width="2" />
<rect x="880.4" y="782.4" width="195.2" height="32.6" fill="#f9e3d4"/>
<rect x="898.2" y="795.6" width="194.1" height="32.4" fill="#f9e3d4"/>
<rect x="917.6" y="810.4" width="194.9" height="33" fill="#f9e3d4"/>
<rect x="880.4" y="782.4" width="195.2" height="32.6" fill="#fbe5d6" fill-opacity="0.55" stroke="#000" stroke-width="1.3" stroke-dasharray="5 3"/>
<g opacity="1.0">
<rect x="886.2" y="791.8" width="16.6" height="15.9" fill="#ffc000" stroke="#000" stroke-width="1.6" />
<rect x="946.7" y="791.8" width="16.6" height="15.9" fill="#b4c7e7" stroke="#000" stroke-width="1.6" />
<rect x="979.3" y="791.8" width="16.6" height="15.9" fill="#b4c7e7" stroke="#000" stroke-width="1.6" />
<rect x="1012" y="791.8" width="16.6" height="15.9" fill="#b4c7e7" stroke="#000" stroke-width="1.6" />
<rect x="1044.6" y="791.8" width="16.6" height="15.9" fill="#b4c7e7" stroke="#000" stroke-width="1.6" />
</g>
<rect x="898.2" y="795.6" width="194.1" height="32.4" fill="#fbe5d6" fill-opacity="0.55" stroke="#000" stroke-width="1.3" stroke-dasharray="5 3"/>
<g opacity="1.0">
<rect x="903.6" y="804.6" width="16.6" height="16.3" fill="#ffc000" stroke="#000" stroke-width="1.6" />
<rect x="963" y="804.6" width="16.6" height="16.3" fill="#b4c7e7" stroke="#000" stroke-width="1.6" />
<rect x="996" y="804.6" width="16.6" height="16.3" fill="#b4c7e7" stroke="#000" stroke-width="1.6" />
<rect x="1028" y="804.6" width="16.6" height="16.3" fill="#b4c7e7" stroke="#000" stroke-width="1.6" />
<rect x="1061" y="804.6" width="16.6" height="16.3" fill="#b4c7e7" stroke="#000" stroke-width="1.6" />
</g>
<rect x="917.6" y="810.4" width="194.9" height="33" fill="#fbe5d6" fill-opacity="0.55" stroke="#000" stroke-width="1.3" stroke-dasharray="5 3"/>
<g opacity="1.0">
<rect x="923.4" y="819.3" width="16.6" height="17.1" fill="#ffc000" stroke="#000" stroke-width="1.6" />
<rect x="983.6" y="819.3" width="16.6" height="17.1" fill="#b4c7e7" stroke="#000" stroke-width="1.6" />
<rect x="1016.2" y="819.3" width="16.6" height="17.1" fill="#b4c7e7" stroke="#000" stroke-width="1.6" />
<rect x="1048.4" y="819.3" width="16.6" height="17.1" fill="#b4c7e7" stroke="#000" stroke-width="1.6" />
<rect x="1081.4" y="819.3" width="16.6" height="17.1" fill="#b4c7e7" stroke="#000" stroke-width="1.6" />
</g>
<text x="874.5" y="808.5" font-family='"Liberation Sans", sans-serif' font-size="20" font-weight="bold" font-style="italic" fill="#ff0000" text-anchor="middle" >4</text>
<text x="891.2" y="831.8" font-family='"Liberation Sans", sans-serif' font-size="20" font-weight="bold" font-style="italic" fill="#ff0000" text-anchor="middle" >5</text>
<text x="911.8" y="845.7" font-family='"Liberation Sans", sans-serif' font-size="20" font-weight="bold" font-style="italic" fill="#ff0000" text-anchor="middle" >6</text>
<rect x="1402.5" y="760.7" width="256.5" height="95.1" fill="none" stroke="#000" stroke-width="2" />
<rect x="1415.3" y="777.4" width="194.9" height="33" fill="#f9e3d4"/>
<rect x="1432.8" y="791.8" width="194.2" height="32.2" fill="#f9e3d4"/>
<rect x="1452.2" y="806.5" width="194.8" height="32.2" fill="#f9e3d4"/>
<rect x="1415.3" y="777.4" width="194.9" height="33" fill="#fbe5d6" fill-opacity="0.55" stroke="#000" stroke-width="1.3" stroke-dasharray="5 3"/>
<g opacity="1.0">
<rect x="1421" y="787.9" width="16.7" height="15.9" fill="#ffc000" stroke="#000" stroke-width="1.6" />
<rect x="1481.7" y="787.9" width="16.7" height="15.9" fill="#b4c7e7" stroke="#000" stroke-width="1.6" />
<rect x="1514.3" y="787.9" width="16.7" height="15.9" fill="#b4c7e7" stroke="#000" stroke-width="1.6" />
<rect x="1546.5" y="787.9" width="16.7" height="15.9" fill="#b4c7e7" stroke="#000" stroke-width="1.6" />
<rect x="1579" y="787.9" width="16.7" height="15.9" fill="#b4c7e7" stroke="#000" stroke-width="1.6" />
</g>
<rect x="1432.8" y="791.8" width="194.2" height="32.2" fill="#fbe5d6" fill-opacity="0.55" stroke="#000" stroke-width="1.3" stroke-dasharray="5 3"/>
<g opacity="1.0">
<rect x="1438.6" y="800.7" width="16.7" height="15.9" fill="#ffc000" stroke="#000" stroke-width="1.6" />
<rect x="1498" y="800.7" width="16.7" height="15.9" fill="#b4c7e7" stroke="#000" stroke-width="1.6" />
<rect x="1530.6" y="800.7" width="16.7" height="15.9" fill="#b4c7e7" stroke="#000" stroke-width="1.6" />
<rect x="1563.2" y="800.7" width="16.7" height="15.9" fill="#b4c7e7" stroke="#000" stroke-width="1.6" />
<rect x="1595.8" y="800.7" width="16.7" height="15.9" fill="#b4c7e7" stroke="#000" stroke-width="1.6" />
</g>
<rect x="1452.2" y="806.5" width="194.8" height="32.2" fill="#fbe5d6" fill-opacity="0.55" stroke="#000" stroke-width="1.3" stroke-dasharray="5 3"/>
<g opacity="1.0">
<rect x="1458" y="815.4" width="16.7" height="16.3" fill="#ffc000" stroke="#000" stroke-width="1.6" />
<rect x="1518.2" y="815.4" width="16.7" height="16.3" fill="#b4c7e7" stroke="#000" stroke-width="1.6" />
<rect x="1550.8" y="815.4" width="16.7" height="16.3" fill="#b4c7e7" stroke="#000" stroke-width="1.6" />
<rect x="1583.4" y="815.4" width="16.7" height="16.3" fill="#b4c7e7" stroke="#000" stroke-width="1.6" />
<rect x="1616" y="815.4" width="16.7" height="16.3" fill="#b4c7e7" stroke="#000" stroke-width="1.6" />
</g>
<text x="1392" y="802.5" font-family='"Liberation Sans", sans-serif' font-size="19" font-weight="bold" font-style="italic" fill="#ff0000" text-anchor="middle" textLength="38" lengthAdjust="spacingAndGlyphs" >N-2</text>
<text x="1413.5" y="826.3" font-family='"Liberation Sans", sans-serif' font-size="19" font-weight="bold" font-style="italic" fill="#ff0000" text-anchor="middle" textLength="35" lengthAdjust="spacingAndGlyphs" >N-1</text>
<text x="1440.5" y="842.5" font-family='"Liberation Sans", sans-serif' font-size="19" font-weight="bold" font-style="italic" fill="#ff0000" text-anchor="middle" >N</text>
<polygon points="251.6,997.8 235.6,1004.5 235.6,991" fill="#000"/>
<polyline points="336,804.6 200,804.6 200,997.8 236.6,997.8" fill="none" stroke="#000" stroke-width="2.9" />
<text x="145" y="1053.7" font-family='"Liberation Serif", serif' font-size="44.5" font-weight="bold" font-style="normal" fill="#ff0000" text-anchor="middle" >(c)</text>
<text x="28" y="1108" font-family='"Liberation Serif", serif' font-size="44.5" font-weight="bold" font-style="normal" fill="#ff0000" text-anchor="start" textLength="233.5" lengthAdjust="spacingAndGlyphs" >Background</text>
<text x="29.7" y="1162" font-family='"Liberation Serif", serif' font-size="44.5" font-weight="bold" font-style="normal" fill="#ff0000" text-anchor="start" textLength="230.5" lengthAdjust="spacingAndGlyphs" >Suppression</text>
<rect x="259.2" y="943.6" width="295.3" height="102.9" fill="#f8cbad" stroke="#000" stroke-width="1.8" />
<rect x="277.5" y="954.5" width="215.8" height="39.9" fill="#f9e3d4" />
<rect x="296.5" y="970.6" width="215.5" height="40.3" fill="#f9e3d4" />
<rect x="318.6" y="988.9" width="215.8" height="40.2" fill="#f9e3d4" />
<rect x="327" y="1000.3" width="216" height="39.9" fill="#f9e3d4" />
<rect x="277.5" y="954.5" width="215.8" height="39.9" fill="#fbe5d6" fill-opacity="0.55" stroke="#000" stroke-width="1.3" stroke-dasharray="5 3"/>
<g opacity="1.0">
<rect x="284.3" y="965.6" width="18.4" height="19.8" fill="#ffc000" stroke="#000" stroke-width="1.6" />
<rect x="350.6" y="965.6" width="18.4" height="19.8" fill="#b4c7e7" stroke="#000" stroke-width="1.6" />
<rect x="386.6" y="965.6" width="18.4" height="19.8" fill="#b4c7e7" stroke="#000" stroke-width="1.6" />
<rect x="422.9" y="965.6" width="18.4" height="19.8" fill="#b4c7e7" stroke="#000" stroke-width="1.6" />
<rect x="458.9" y="965.6" width="18.4" height="19.8" fill="#b4c7e7" stroke="#000" stroke-width="1.6" />
</g>
<rect x="296.5" y="970.6" width="215.5" height="40.3" fill="#fbe5d6" fill-opacity="0.55" stroke="#000" stroke-width="1.3" stroke-dasharray="5 3"/>
<g opacity="1.0">
<rect x="303.1" y="981.9" width="18.4" height="19.8" fill="#ffc000" stroke="#000" stroke-width="1.6" />
<rect x="369.5" y="981.9" width="18.4" height="19.8" fill="#b4c7e7" stroke="#000" stroke-width="1.6" />
<rect x="405.7" y="981.9" width="18.4" height="19.8" fill="#b4c7e7" stroke="#000" stroke-width="1.6" />
<rect x="441.6" y="981.9" width="18.4" height="19.8" fill="#b4c7e7" stroke="#000" stroke-width="1.6" />
<rect x="478.1" y="981.9" width="18.4" height="19.8" fill="#b4c7e7" stroke="#000" stroke-width="1.6" />
</g>
<rect x="318.6" y="988.9" width="215.8" height="40.2" fill="#fbe5d6" fill-opacity="0.55" stroke="#000" stroke-width="1.3" stroke-dasharray="5 3"/>
<g opacity="0.75">
<rect x="325.9" y="1000.3" width="18.4" height="19.2" fill="#ffc000" stroke="#000" stroke-width="1.6" />
<rect x="391.5" y="1000.3" width="18.4" height="19.2" fill="#b4c7e7" stroke="#000" stroke-width="1.6" />
<rect x="427.5" y="1000.3" width="18.4" height="19.2" fill="#b4c7e7" stroke="#000" stroke-width="1.6" />
<rect x="463.8" y="1000.3" width="18.4" height="19.2" fill="#b4c7e7" stroke="#000" stroke-width="1.6" />
<rect x="500.1" y="1000.3" width="18.4" height="19.2" fill="#b4c7e7" stroke="#000" stroke-width="1.6" />
</g>
<rect x="327" y="1000.3" width="216" height="39.9" fill="#fbe5d6" fill-opacity="0.7" stroke="#000" stroke-width="1.3" stroke-dasharray="5 3"/>
<g opacity="1.0">
<rect x="341.7" y="1014.9" width="18.4" height="20.1" fill="#ffc000" stroke="#000" stroke-width="1.6" />
<rect x="407.7" y="1014.9" width="18.4" height="20.1" fill="#b4c7e7" stroke="#000" stroke-width="1.6" />
<rect x="443.8" y="1014.9" width="18.4" height="20.1" fill="#b4c7e7" stroke="#000" stroke-width="1.6" />
<rect x="479.7" y="1014.9" width="18.4" height="20.1" fill="#b4c7e7" stroke="#000" stroke-width="1.6" />
<rect x="515.6" y="1014.9" width="18.4" height="20.1" fill="#b4c7e7" stroke="#000" stroke-width="1.6" />
</g>
<rect x="270.1" y="950.6" width="151.5" height="89.3" fill="none" stroke="#0000ff" stroke-width="2.2" />
<text x="504.1" y="967" font-family='"Liberation Sans", sans-serif' font-size="27" font-weight="bold" font-style="italic" fill="#ff0000" text-anchor="middle" >1</text>
<ellipse cx="508" cy="981.5" rx="2" ry="1.5" fill="#ff0000"/>
<ellipse cx="520.6" cy="981.5" rx="2" ry="1.5" fill="#ff0000"/>
<ellipse cx="533.5" cy="981.5" rx="2" ry="1.5" fill="#ff0000"/>
<ellipse cx="530.5" cy="996.4" rx="2" ry="1.5" fill="#ff0000"/>
<ellipse cx="543.3" cy="996.4" rx="2" ry="1.5" fill="#ff0000"/>
<ellipse cx="556" cy="996.4" rx="2" ry="1.5" fill="#ff0000"/>
<text x="567.4" y="1036.5" font-family='"Liberation Sans", sans-serif' font-size="28" font-weight="bold" font-style="italic" fill="#ff0000" text-anchor="middle" textLength="22" lengthAdjust="spacingAndGlyphs" >N</text>
<polyline points="273.6,1050 273.6,1233.7 876,1233.7" fill="none" stroke="#000" stroke-width="2.8" />
<polyline points="876,1232 1697.7,1232" fill="none" stroke="#000" stroke-width="2.8" />
<polygon points="499.6,1084.1 484.6,1092.1 484.6,1076.1" fill="#0000ff"/>
<polyline points="400,1039.8 400,1084.1 485.6,1084.1" fill="none" stroke="#0000ff" stroke-width="3.2" />
<text x="407.7" y="1080" font-family='"Liberation Sans", sans-serif' font-size="25" font-weight="normal" font-style="normal" fill="#000" text-anchor="start" textLength="48" lengthAdjust="spacingAndGlyphs" >Max</text>
<polygon points="425.6,1137.6 410.6,1145.6 410.6,1129.6" fill="#0000ff"/>
<polyline points="317.3,1039.8 317.3,1137.6 411.6,1137.6" fill="none" stroke="#0000ff" stroke-width="3.2" />
<text x="332" y="1131.5" font-family='"Liberation Sans", sans-serif' font-size="25" font-weight="normal" font-style="normal" fill="#000" text-anchor="start" textLength="60" lengthAdjust="spacingAndGlyphs" >Mean</text>
<rect x="503" y="1062.5" width="38" height="39.5" fill="#d2d5e0" stroke="#333" stroke-width="1.2" stroke-dasharray="4 3" />
<rect x="512.6" y="1073.7" width="17.4" height="17.8" fill="#4472c4" stroke="#000" stroke-width="1.5" />
<rect x="430.8" y="1119" width="38.2" height="39.6" fill="#e5dcdb" stroke="#333" stroke-width="1.2" stroke-dasharray="4 3" />
<rect x="440.2" y="1130.6" width="17.5" height="18.2" fill="#dfe3f3" stroke="#000" stroke-width="1.5" />
<polyline points="541,1081.7 600.3,1081.7 600.3,1000.6 638.7,1000.6" fill="none" stroke="#0000ff" stroke-width="3.2" />
<polyline points="469,1138.3 661.4,1138.3 661.4,1023.3" fill="none" stroke="#0000ff" stroke-width="3.2" />
<circle cx="661.7" cy="1000.9" r="23.2" fill="none" stroke="#000" stroke-width="1.8"/>
<path d="M652.7 1000.9 L670.7 1000.9 M661.7 991.9 L661.7 1009.9" stroke="#000" stroke-width="3.9" stroke-linecap="round" fill="none"/>
<polygon points="728.5,999.6 712.5,1006.4 712.5,992.9" fill="#000"/>
<polyline points="687.6,999.6 713.5,999.6" fill="none" stroke="#000" stroke-width="2.9" />
<rect x="745.3" y="985" width="37.4" height="39" fill="#cfd5e3" stroke="#333" stroke-width="1.2" stroke-dasharray="4 3" />
<rect x="754.7" y="996.8" width="17.5" height="17.5" fill="#8faadc" stroke="#000" stroke-width="1.5" />
<polygon points="842.4,1006 821,1014.1 820.6,999.1" fill="#000"/>
<polyline points="786.3,1007.5 821.8,1006.6" fill="none" stroke="#000" stroke-width="2.9" />
<circle cx="873.6" cy="1004.2" r="23.2" fill="none" stroke="#000" stroke-width="1.8"/>
<path d="M866.6 1011.2 L879.6 1011.2" stroke="#000" stroke-width="3.9" stroke-linecap="round"/>
<polygon points="767.4,1093.8 759.9,1072.2 774.9,1072.2" fill="#000"/>
<polyline points="767.4,1028.6 767.4,1073.2" fill="none" stroke="#000" stroke-width="2.9" />
<circle cx="767.3" cy="1117.4" r="23" fill="none" stroke="#000" stroke-width="1.8"/>
<text x="766.3" y="1128.2" font-family='"Liberation Sans", sans-serif' font-size="29.9" font-weight="bold" font-style="italic" fill="#000" text-anchor="middle" >C</text>
<polygon points="767.6,1142.3 778.4,1174.3 756.8,1174.3" fill="#000"/>
<polyline points="767.6,1233 767.6,1173.3" fill="none" stroke="#000" stroke-width="3" />
<polygon points="875.9,1036.6 886.9,1068.5 865.3,1068.7" fill="#000"/>
<polyline points="877.4,1233 876.1,1067.6" fill="none" stroke="#000" stroke-width="3" />
<path d="M796 1118.2 L869 1118.2 A7.5 7.5 0 0 1 884 1118.2 L986 1118.2" fill="none" stroke="#000" stroke-width="2.9"/>
<polygon points="998.9,1118.2 982.9,1125.2 982.9,1111.2" fill="#000"/>
<polygon points="996.7,1004.7 980.7,1011.7 980.7,997.7" fill="#000"/>
<polyline points="903.9,1004.7 981.7,1004.7" fill="none" stroke="#000" stroke-width="2.9" />
<rect x="1018.1" y="958.6" width="295.6" height="103.8" fill="#c55a11" stroke="#000" stroke-width="1.6" />
<rect x="1036.3" y="970.2" width="215.3" height="40" fill="#e9c1a3"/>
<rect x="1055.3" y="986.6" width="215.6" height="39.5" fill="#e9c1a3"/>
<rect x="1077.5" y="1004.6" width="215.7" height="39.7" fill="#e9c1a3"/>
<rect x="1036.3" y="970.2" width="215.3" height="40" fill="#fbe5d6" fill-opacity="0.55" stroke="#000" stroke-width="1.3" stroke-dasharray="5 3"/>
<g opacity="1.0">
<rect x="1042.9" y="980.7" width="19" height="20.4" fill="#ffc000" stroke="#000" stroke-width="1.6" />
<rect x="1109.1" y="980.7" width="19" height="20.4" fill="#b4c7e7" stroke="#000" stroke-width="1.6" />
<rect x="1145.4" y="980.7" width="19" height="20.4" fill="#b4c7e7" stroke="#000" stroke-width="1.6" />
<rect x="1181.4" y="980.7" width="19" height="20.4" fill="#b4c7e7" stroke="#000" stroke-width="1.6" />
<rect x="1217.4" y="980.7" width="19" height="20.4" fill="#b4c7e7" stroke="#000" stroke-width="1.6" />
</g>
<rect x="1055.3" y="986.6" width="215.6" height="39.5" fill="#fbe5d6" fill-opacity="0.55" stroke="#000" stroke-width="1.3" stroke-dasharray="5 3"/>
<g opacity="1.0">
<rect x="1061.9" y="997.5" width="19" height="19.9" fill="#ffc000" stroke="#000" stroke-width="1.6" />
<rect x="1128" y="997.5" width="19" height="19.9" fill="#b4c7e7" stroke="#000" stroke-width="1.6" />
<rect x="1164.4" y="997.5" width="19" height="19.9" fill="#b4c7e7" stroke="#000" stroke-width="1.6" />
<rect x="1200.4" y="997.5" width="19" height="19.9" fill="#b4c7e7" stroke="#000" stroke-width="1.6" />
<rect x="1236.5" y="997.5" width="19" height="19.9" fill="#b4c7e7" stroke="#000" stroke-width="1.6" />
</g>
<rect x="1077.5" y="1004.6" width="215.7" height="39.7" fill="#fbe5d6" fill-opacity="0.55" stroke="#000" stroke-width="1.3" stroke-dasharray="5 3"/>
<g opacity="1.0">
<rect x="1083.9" y="1015.5" width="19" height="20.1" fill="#ffc000" stroke="#000" stroke-width="1.6" />
<rect x="1150.1" y="1015.5" width="19" height="20.1" fill="#b4c7e7" stroke="#000" stroke-width="1.6" />
<rect x="1186.1" y="1015.5" width="19" height="20.1" fill="#b4c7e7" stroke="#000" stroke-width="1.6" />
<rect x="1222.2" y="1015.5" width="19" height="20.1" fill="#b4c7e7" stroke="#000" stroke-width="1.6" />
<rect x="1258.2" y="1015.5" width="19" height="20.1" fill="#b4c7e7" stroke="#000" stroke-width="1.6" />
</g>
<text x="1252.2" y="983.2" font-family='"Liberation Sans", sans-serif' font-size="28" font-weight="bold" font-style="normal" fill="#000" text-anchor="start" textLength="243.5" lengthAdjust="spacingAndGlyphs" >anomaly_features</text>
<polyline points="1166.6,954.5 1166.6,926 1849,926" fill="none" stroke="#000" stroke-width="2.9" />
<polygon points="1440.8,1146.5 1433.3,1125.5 1448.3,1125.5" fill="#000"/>
<polyline points="1314,1010.8 1440.8,1010.8 1440.8,1126.5" fill="none" stroke="#000" stroke-width="2.9" />
<circle cx="1439.8" cy="1172.4" r="23.2" fill="none" stroke="#000" stroke-width="1.8"/>
<path d="M1429.8 1168.4 L1449.8 1188.4 M1449.8 1168.4 L1429.8 1188.4" stroke="#000" stroke-width="4.2" stroke-linecap="round" fill="none"/>
<rect x="1018.8" y="1072.3" width="123" height="136.9" fill="#e5dcdb" stroke="#333" stroke-width="1.2" stroke-dasharray="4 3" />
<rect x="1025" y="1079" width="33.3" height="40" fill="#fbe5d6" stroke="#333" stroke-width="1.2" stroke-dasharray="4 3" />
<rect x="1032" y="1089.7" width="19" height="21" fill="#e2f0d9" stroke="#000" stroke-width="1.5" />
<rect x="1061.4" y="1119.4" width="33.2" height="40.2" fill="#fbe5d6" stroke="#333" stroke-width="1.2" stroke-dasharray="4 3" />
<rect x="1068.4" y="1130" width="18.6" height="21" fill="#c5e0b4" stroke="#000" stroke-width="1.5" />
<rect x="1100" y="1161.4" width="33" height="40.1" fill="#fbe5d6" stroke="#333" stroke-width="1.2" stroke-dasharray="4 3" />
<rect x="1106.8" y="1172.5" width="18.6" height="20.3" fill="#a9d18e" stroke="#000" stroke-width="1.5" />
<text x="1071.2" y="1112.4" font-family='"Liberation Sans", sans-serif' font-size="26" font-weight="bold" font-style="normal" fill="#000" text-anchor="start" textLength="265.5" lengthAdjust="spacingAndGlyphs" >background_similarity</text>
<polyline points="1144.6,1176 1251,1176" fill="none" stroke="#000" stroke-width="2.9" />
<circle cx="1279.3" cy="1174.6" r="23.3" fill="none" stroke="#000" stroke-width="1.8"/>
<text x="1262.5" y="1185.7" font-family='"Liberation Sans", sans-serif' font-size="32.6" font-weight="normal" font-style="normal" fill="#000" text-anchor="start" >1</text>
<path d="M1280.5 1176.9 L1291 1176.9" stroke="#000" stroke-width="2.6" stroke-linecap="round"/>
<polygon points="1392.3,1176 1377.1,1183.6 1377.1,1168.4" fill="#000"/>
<polyline points="1308.6,1176 1378.1,1176" fill="none" stroke="#000" stroke-width="2.9" />
<polygon points="1665.2,1176 1649.2,1182.8 1649.2,1169.2" fill="#000"/>
<polyline points="1471.3,1176 1650.2,1176" fill="none" stroke="#000" stroke-width="2.9" />
<circle cx="1698.4" cy="1163.1" r="22.7" fill="none" stroke="#000" stroke-width="1.8"/>
<path d="M1689.5 1163.1 L1707.3 1163.1 M1698.4 1154.2 L1698.4 1172" stroke="#000" stroke-width="3.9" stroke-linecap="round" fill="none"/>
<polygon points="1699,1068.8 1705.8,1084.8 1692.2,1084.8" fill="#000"/>
<polyline points="1699,1139.3 1699,1083.8" fill="none" stroke="#000" stroke-width="2.9" />
<polygon points="1697.7,1187.2 1704.5,1203.2 1691,1203.2" fill="#000"/>
<polyline points="1697.7,1233 1697.7,1202.2" fill="none" stroke="#000" stroke-width="2.9" />
<rect x="1543.7" y="962.6" width="295.6" height="103.5" fill="#c55a11" stroke="#000" stroke-width="1.6" />
<rect x="1562.6" y="974.4" width="215.6" height="39.9" fill="#5a6f9a"/>
<rect x="1581.6" y="990.6" width="215.5" height="39.5" fill="#5a6f9a"/>
<rect x="1603.6" y="1008.7" width="215.6" height="39.6" fill="#5a6f9a"/>
<rect x="1562.6" y="974.4" width="215.6" height="39.9" fill="#2e75b6" fill-opacity="0.5" stroke="#000" stroke-width="1.3" stroke-dasharray="5 3"/>
<g opacity="1.0">
<rect x="1568.8" y="985.1" width="19" height="20.1" fill="#c55a11" stroke="#000" stroke-width="1.6" />
<rect x="1635.4" y="985.1" width="19" height="20.1" fill="#2e75b6" stroke="#000" stroke-width="1.6" />
<rect x="1671.4" y="985.1" width="19" height="20.1" fill="#2e75b6" stroke="#000" stroke-width="1.6" />
<rect x="1707.4" y="985.1" width="19" height="20.1" fill="#2e75b6" stroke="#000" stroke-width="1.6" />
<rect x="1743.7" y="985.1" width="19" height="20.1" fill="#2e75b6" stroke="#000" stroke-width="1.6" />
</g>
<rect x="1581.6" y="990.6" width="215.5" height="39.5" fill="#2e75b6" fill-opacity="0.5" stroke="#000" stroke-width="1.3" stroke-dasharray="5 3"/>
<g opacity="1.0">
<rect x="1587.8" y="1001.7" width="19" height="19.7" fill="#c55a11" stroke="#000" stroke-width="1.6" />
<rect x="1654.3" y="1001.7" width="19" height="19.7" fill="#2e75b6" stroke="#000" stroke-width="1.6" />
<rect x="1690.3" y="1001.7" width="19" height="19.7" fill="#2e75b6" stroke="#000" stroke-width="1.6" />
<rect x="1726.3" y="1001.7" width="19" height="19.7" fill="#2e75b6" stroke="#000" stroke-width="1.6" />
<rect x="1762.3" y="1001.7" width="19" height="19.7" fill="#2e75b6" stroke="#000" stroke-width="1.6" />
</g>
<rect x="1603.6" y="1008.7" width="215.6" height="39.6" fill="#2e75b6" fill-opacity="0.5" stroke="#000" stroke-width="1.3" stroke-dasharray="5 3"/>
<g opacity="1.0">
<rect x="1609.8" y="1019.9" width="19" height="19.5" fill="#c55a11" stroke="#000" stroke-width="1.6" />
<rect x="1676" y="1019.9" width="19" height="19.5" fill="#2e75b6" stroke="#000" stroke-width="1.6" />
<rect x="1712" y="1019.9" width="19" height="19.5" fill="#2e75b6" stroke="#000" stroke-width="1.6" />
<rect x="1748" y="1019.9" width="19" height="19.5" fill="#2e75b6" stroke="#000" stroke-width="1.6" />
<rect x="1784.3" y="1019.9" width="19" height="19.5" fill="#2e75b6" stroke="#000" stroke-width="1.6" />
</g>
<text x="1604.6" y="968" font-family='"Liberation Sans", sans-serif' font-size="30" font-weight="bold" font-style="italic" fill="#000" text-anchor="start" textLength="153" lengthAdjust="spacingAndGlyphs" >final_token</text>
<path d="M1849 926.4 L1849.9 926.4 A7.8 7.8 0 0 1 1865.5 926.4 L1982.5 926.4" fill="none" stroke="#000" stroke-width="2.8"/>
<polygon points="1982.5,760.5 1989.5,775.5 1975.5,775.5" fill="#000"/>
<polyline points="1982.5,927.8 1982.5,774.5" fill="none" stroke="#000" stroke-width="2.8" />
<polygon points="1857.7,762.7 1864.7,777.7 1850.7,777.7" fill="#000"/>
<polyline points="1839.5,1028.8 1857.7,1028.8 1857.7,776.7" fill="none" stroke="#000" stroke-width="2.8" />
<polygon points="1855.6,702 1848.6,687 1862.6,687" fill="#000"/>
<polyline points="1855.6,464.6 1855.6,688" fill="none" stroke="#000" stroke-width="2.8" />
<circle cx="1856.6" cy="730.3" r="27.9" fill="none" stroke="#000" stroke-width="2"/>
<path d="M1840.1 714.6 L1873.1 747.6 M1873.1 714.6 L1840.1 747.6" stroke="#000" stroke-width="6.5" stroke-linecap="round" fill="none"/>
<ellipse cx="1985.6" cy="724.8" rx="28.8" ry="31.7" fill="none" stroke="#000" stroke-width="1.8"/>
<path d="M1970.5 724.7 L1999.5 724.7 M1985 710.2 L1985 739.2" stroke="#000" stroke-width="5.4" stroke-linecap="round" fill="none"/>
<polygon points="1957.5,735.9 1942.5,742.9 1942.5,728.9" fill="#000"/>
<polyline points="1884.5,735.9 1943.5,735.9" fill="none" stroke="#000" stroke-width="2.8" />
<path d="M2018.9 732.6 L2055.8 732.6 A7.8 7.8 0 0 1 2071.4 732.6 L2128 732.6" fill="none" stroke="#000" stroke-width="2.8"/>
<polygon points="2140.6,732.6 2125.6,739.6 2125.6,725.6" fill="#000"/>
<g transform="translate(1966.5,854.8) rotate(-90)">
<text x="-40.8" y="11.5" font-family='"Liberation Sans", sans-serif' font-size="32" font-weight="bold" font-style="italic" fill="#000" text-anchor="start" textLength="81.6" lengthAdjust="spacingAndGlyphs" >Norm</text>
</g>
<polyline points="1804.3,1048.3 1804.3,1171 2063.8,1171" fill="none" stroke="#000" stroke-width="2.8" />
<polygon points="2063.8,355.2 2070.8,370.2 2056.8,370.2" fill="#000"/>
<polyline points="2063.8,1172.4 2063.8,369.2" fill="none" stroke="#000" stroke-width="2.8" />
<text x="1830" y="1144.8" font-family='"Liberation Sans", sans-serif' font-size="30" font-weight="bold" font-style="italic" fill="#ff0000" text-anchor="start" textLength="213.5" lengthAdjust="spacingAndGlyphs" >Last imgtoken</text>
<line x1="2139.5" y1="594.6" x2="2583.2" y2="594.6" stroke="#c6c6c6" stroke-width="4.4" stroke-dasharray="37.8 19.9" stroke-dashoffset="13.7"/>
<line x1="2581" y1="599.4" x2="2581" y2="834" stroke="#c6c6c6" stroke-width="4.4" stroke-dasharray="37.8 19.9" stroke-dashoffset="0"/>
<line x1="2139.5" y1="831.8" x2="2583.2" y2="831.8" stroke="#c6c6c6" stroke-width="4.4" stroke-dasharray="37.8 19.9" stroke-dashoffset="55.7"/>
<line x1="2141.7" y1="592.4" x2="2141.7" y2="834" stroke="#c6c6c6" stroke-width="4.4" stroke-dasharray="37.8 19.9" stroke-dashoffset="20"/>
<line x1="2140.5" y1="947.8" x2="2584.8" y2="947.8" stroke="#c6c6c6" stroke-width="4.4" stroke-dasharray="37.8 19.9" stroke-dashoffset="13.7"/>
<line x1="2582.6" y1="952.6" x2="2582.6" y2="1187.7" stroke="#c6c6c6" stroke-width="4.4" stroke-dasharray="37.8 19.9" stroke-dashoffset="0"/>
<line x1="2140.5" y1="1185.5" x2="2584.8" y2="1185.5" stroke="#c6c6c6" stroke-width="4.4" stroke-dasharray="37.8 19.9" stroke-dashoffset="55.7"/>
<line x1="2142.7" y1="945.6" x2="2142.7" y2="1187.7" stroke="#c6c6c6" stroke-width="4.4" stroke-dasharray="37.8 19.9" stroke-dashoffset="20"/>
<rect x="2175" y="606.2" width="136.8" height="136.7" fill="url(#gheat)" />
<g fill="none" stroke-linecap="round" stroke-linejoin="round">
<circle cx="2192" cy="640" r="2.4" fill="#3d6fd0" opacity="0.3" filter="url(#blur1)"/>
<circle cx="2201" cy="632" r="2.4" fill="#3d6fd0" opacity="0.3" filter="url(#blur1)"/>
<circle cx="2208" cy="650" r="2.4" fill="#3d6fd0" opacity="0.3" filter="url(#blur1)"/>
<circle cx="2215" cy="638" r="2.4" fill="#3d6fd0" opacity="0.3" filter="url(#blur1)"/>
<circle cx="2222" cy="655" r="2.4" fill="#3d6fd0" opacity="0.3" filter="url(#blur1)"/>
<circle cx="2196" cy="662" r="2.4" fill="#3d6fd0" opacity="0.3" filter="url(#blur1)"/>
<circle cx="2230" cy="645" r="2.4" fill="#3d6fd0" opacity="0.3" filter="url(#blur1)"/>
<circle cx="2186" cy="688" r="2.4" fill="#3d6fd0" opacity="0.3" filter="url(#blur1)"/>
<circle cx="2212" cy="668" r="2.4" fill="#3d6fd0" opacity="0.3" filter="url(#blur1)"/>
<circle cx="2225" cy="625" r="2.4" fill="#3d6fd0" opacity="0.3" filter="url(#blur1)"/>
<circle cx="2195" cy="733" r="2.4" fill="#3d6fd0" opacity="0.3" filter="url(#blur1)"/>
<circle cx="2240" cy="735" r="2.4" fill="#3d6fd0" opacity="0.3" filter="url(#blur1)"/>
<circle cx="2204" cy="622" r="2.4" fill="#3d6fd0" opacity="0.3" filter="url(#blur1)"/>
<circle cx="2218" cy="615" r="2.4" fill="#3d6fd0" opacity="0.3" filter="url(#blur1)"/>
<path d="M2262.4 606.5 C2261 615 2258 622 2254 628" stroke="#5f8fe0" stroke-width="1.4" opacity="0.8"/>
<path d="M2246 637 L2264.5 689 C2266.5 698 2263 703 2256 706 L2209 727" stroke="#2040c0" stroke-width="8" filter="url(#blur2)" opacity="0.7"/>
<path d="M2235 614 L2249 626" stroke="#25c7d9" stroke-width="3.2" filter="url(#blur1)"/>
<path d="M2249 626 L2246 637 L2264.5 689" stroke="#25c0d9" stroke-width="5" filter="url(#blur1)" opacity="0.9"/>
<path d="M2248.5 645 L2263 686" stroke="#1a3a9c" stroke-width="2.6" filter="url(#blur1)"/>
<path d="M2264 700 C2262 705 2258 706 2252 708.5 L2210 727" stroke="#2fd0c8" stroke-width="4.2" filter="url(#blur1)"/>
<path d="M2250 710 L2218 724" stroke="#3a9fd0" stroke-width="1.6" filter="url(#blur1)"/>
<path d="M2264 684 C2266 694 2264 702 2252 707" stroke="#b8e82a" stroke-width="8" filter="url(#blur2)"/>
<path d="M2263.6 686 C2264 693 2262 699 2257 703" stroke="#ef3a14" stroke-width="5" filter="url(#blur1)"/>
<path d="M2263.4 688 C2263.5 693 2262 697 2259.5 700.5" stroke="#8a0a04" stroke-width="2.6" filter="url(#blur1)"/>
<circle cx="2250" cy="626.5" r="3.4" fill="#b5e030" stroke="none" filter="url(#blur1)"/>
<circle cx="2250" cy="626.5" r="1.4" fill="#f0c020" stroke="none"/>
<circle cx="2210" cy="726.5" r="3.4" fill="#9be03a" stroke="none" filter="url(#blur1)"/>
<circle cx="2210.5" cy="726.3" r="1.3" fill="#e8c828" stroke="none"/>
</g>
<rect x="2422.2" y="607.6" width="107.4" height="106.8" fill="#ffc000" stroke="#000" stroke-width="1.4" />
<text x="2475.5" y="674" font-family='"Liberation Sans", sans-serif' font-size="36" font-weight="bold" font-style="normal" fill="#000" text-anchor="middle" textLength="68" lengthAdjust="spacingAndGlyphs" >0.95</text>
<text x="2152.8" y="791.8" font-family='"Liberation Sans", sans-serif' font-size="32" font-weight="bold" font-style="normal" fill="#000" text-anchor="start" textLength="218.5" lengthAdjust="spacingAndGlyphs" >predict_masks</text>
<text x="2396.6" y="788" font-family='"Liberation Sans", sans-serif' font-size="32" font-weight="bold" font-style="normal" fill="#000" text-anchor="start" textLength="170" lengthAdjust="spacingAndGlyphs" >predict_cls</text>
<line x1="2362.3" y1="845" x2="2362.3" y2="859.3" stroke="#000" stroke-width="3.1" stroke-linecap="round"/>
<line x1="2362.3" y1="876.9" x2="2362.3" y2="897.8" stroke="#000" stroke-width="3.1" stroke-linecap="round"/>
<line x1="2362.3" y1="915.4" x2="2362.3" y2="936.4" stroke="#000" stroke-width="3.1" stroke-linecap="round"/>
<polygon points="2362.3,829.2 2370,843.7 2354.6,843.7" fill="#000"/>
<text x="2207.4" y="907.9" font-family='"Liberation Serif", serif' font-size="40" font-weight="normal" font-style="italic" fill="#000" text-anchor="start" textLength="69.3" lengthAdjust="spacingAndGlyphs" >Loss</text>
<text x="2280.5" y="890.3" font-family='"Liberation Serif", serif' font-size="21" font-weight="normal" font-style="normal" fill="#000" text-anchor="start" textLength="28" lengthAdjust="spacingAndGlyphs" >seg</text>
<text x="2421.4" y="909.6" font-family='"Liberation Serif", serif' font-size="40" font-weight="normal" font-style="italic" fill="#000" text-anchor="start" textLength="68.4" lengthAdjust="spacingAndGlyphs" >Loss</text>
<text x="2494.1" y="893" font-family='"Liberation Serif", serif' font-size="21" font-weight="normal" font-style="italic" fill="#000" text-anchor="start" textLength="23" lengthAdjust="spacingAndGlyphs" >cls</text>
<rect x="2172.8" y="989.9" width="137.2" height="136.9" fill="#000" />
<ellipse cx="2247.1" cy="1016" rx="7.2" ry="10.8" fill="#fff" transform="rotate(8 2247 1016)"/>
<ellipse cx="2259" cy="1091.3" rx="3" ry="4.2" fill="#fff" transform="rotate(-30 2259 1091.3)"/>
<circle cx="2208" cy="1112.4" r="3" fill="#fff"/>
<rect x="2430.3" y="1000.7" width="107.7" height="107.3" fill="#fff" stroke="#000" stroke-width="1.4" />
<text x="2485" y="1073" font-family='"Liberation Sans", sans-serif' font-size="52" font-weight="bold" font-style="normal" fill="#000" text-anchor="middle" >1</text>
<text x="2241.5" y="1168" font-family='"Liberation Sans", sans-serif' font-size="33" font-weight="bold" font-style="normal" fill="#000" text-anchor="middle" textLength="44" lengthAdjust="spacingAndGlyphs" >GT</text>
<text x="2447.8" y="1169" font-family='"Liberation Sans", sans-serif' font-size="33" font-weight="bold" font-style="normal" fill="#000" text-anchor="start" textLength="78.5" lengthAdjust="spacingAndGlyphs" >Label</text>
<text x="2312.8" y="57.7" font-family='"Liberation Serif", serif' font-size="44.5" font-weight="bold" font-style="normal" fill="#ff0000" text-anchor="start" textLength="155.5" lengthAdjust="spacingAndGlyphs" >(d) SCR</text>
<rect x="1783.5" y="220.2" width="130.7" height="230.4" fill="none" stroke="#000" stroke-width="2.9" stroke-dasharray="25.4 13.1" stroke-dashoffset="32.9"/>
<rect x="1800.4" y="233.1" width="99.4" height="99.2" fill="#f4b183" />
<rect x="1800.4" y="332.3" width="99.4" height="99.2" fill="#a9d18e" />
<rect x="1800.4" y="233.1" width="99.4" height="198.4" fill="none" stroke="#000" stroke-width="4.6" />
<polyline points="1800.4,332.3 1899.8,332.3" fill="none" stroke="#000" stroke-width="4.6" />
<text x="1850.6" y="296.5" font-family='"Liberation Sans", sans-serif' font-size="48" font-weight="bold" font-style="italic" fill="#000" text-anchor="middle" textLength="56.5" lengthAdjust="spacingAndGlyphs" >FA</text>
<text x="1852.7" y="396.5" font-family='"Liberation Sans", sans-serif' font-size="48" font-weight="bold" font-style="italic" fill="#000" text-anchor="middle" textLength="64.5" lengthAdjust="spacingAndGlyphs" >FN</text>
<polygon points="2031.5,332.7 2017,340.2 2017,325.2" fill="#000"/>
<polyline points="1926.7,332.7 2018,332.7" fill="none" stroke="#000" stroke-width="2.9" />
<circle cx="2061.4" cy="331.3" r="20" fill="none" stroke="#000" stroke-width="1.8"/>
<path d="M2051.9 322.3 L2070.9 341.3 M2070.9 322.3 L2051.9 341.3" stroke="#000" stroke-width="3.8" stroke-linecap="round" fill="none"/>
<polygon points="2061.5,262.5 2069,277 2054,277" fill="#000"/>
<polyline points="2061.5,306.3 2061.5,276" fill="none" stroke="#000" stroke-width="2.9" />
<polygon points="2139.6,332.7 2125.1,340.2 2125.1,325.2" fill="#000"/>
<polyline points="2084.6,332.7 2126.1,332.7" fill="none" stroke="#000" stroke-width="2.9" />
<circle cx="2166" cy="332.3" r="22.8" fill="none" stroke="#000" stroke-width="1.6"/>
<text x="2166" y="344.2" font-family='"Liberation Sans", sans-serif' font-size="33.1" font-weight="bold" font-style="italic" fill="#000" text-anchor="middle" >S</text>
<polygon points="2246.9,333 2232.4,340.5 2232.4,325.5" fill="#000"/>
<polyline points="2191.3,333 2233.4,333" fill="none" stroke="#000" stroke-width="2.9" />
<text x="1979" y="98.2" font-family='"Liberation Sans", sans-serif' font-size="38" font-weight="bold" font-style="normal" fill="#000" text-anchor="start" textLength="208" lengthAdjust="spacingAndGlyphs" >Margin loss</text>
<circle cx="2003.3" cy="120.6" r="4.3" fill="#ed7d31" stroke="none" stroke-width="0"/>
<circle cx="2034.5" cy="124" r="4.3" fill="#ed7d31" stroke="none" stroke-width="0"/>
<circle cx="2053.3" cy="128.1" r="4.3" fill="#ed7d31" stroke="none" stroke-width="0"/>
<circle cx="2016.3" cy="135.9" r="4.3" fill="#ed7d31" stroke="none" stroke-width="0"/>
<circle cx="1978" cy="144.3" r="4.3" fill="#ed7d31" stroke="none" stroke-width="0"/>
<circle cx="2009.3" cy="147.9" r="4.3" fill="#ed7d31" stroke="none" stroke-width="0"/>
<circle cx="1995.5" cy="151.6" r="4.3" fill="#ed7d31" stroke="none" stroke-width="0"/>
<circle cx="2027.2" cy="154.7" r="4.3" fill="#ed7d31" stroke="none" stroke-width="0"/>
<circle cx="2045.5" cy="158.8" r="4.3" fill="#ed7d31" stroke="none" stroke-width="0"/>
<circle cx="1991.3" cy="160.1" r="4.3" fill="#ed7d31" stroke="none" stroke-width="0"/>
<circle cx="1964.7" cy="165.4" r="4.3" fill="#ed7d31" stroke="none" stroke-width="0"/>
<circle cx="2008.5" cy="166.7" r="4.3" fill="#ed7d31" stroke="none" stroke-width="0"/>
<circle cx="1996" cy="169.3" r="4.3" fill="#ed7d31" stroke="none" stroke-width="0"/>
<circle cx="2015" cy="172.9" r="4.3" fill="#ed7d31" stroke="none" stroke-width="0"/>
<circle cx="1970.5" cy="175.3" r="4.3" fill="#ed7d31" stroke="none" stroke-width="0"/>
<circle cx="2001.7" cy="178.1" r="4.3" fill="#ed7d31" stroke="none" stroke-width="0"/>
<circle cx="1978" cy="181" r="4.3" fill="#ed7d31" stroke="none" stroke-width="0"/>
<circle cx="2020.7" cy="183.1" r="4.3" fill="#ed7d31" stroke="none" stroke-width="0"/>
<circle cx="1983.7" cy="191.1" r="4.3" fill="#ed7d31" stroke="none" stroke-width="0"/>
<circle cx="1957.2" cy="196.3" r="4.3" fill="#ed7d31" stroke="none" stroke-width="0"/>
<circle cx="1988.4" cy="199.7" r="4.3" fill="#ed7d31" stroke="none" stroke-width="0"/>
<circle cx="2007.2" cy="204.2" r="4.3" fill="#ed7d31" stroke="none" stroke-width="0"/>
<circle cx="1970.5" cy="212.2" r="4.3" fill="#ed7d31" stroke="none" stroke-width="0"/>
<polygon points="2156.9,171.6 2163.1,182.6 2150.7,182.6" fill="#70ad47"/>
<polygon points="2171.2,173.7 2177.4,184.7 2165,184.7" fill="#70ad47"/>
<polygon points="2187.4,171.1 2193.6,182.1 2181.2,182.1" fill="#70ad47"/>
<polygon points="2138.4,186.7 2144.6,197.7 2132.2,197.7" fill="#70ad47"/>
<polygon points="2152.2,189.1 2158.4,200.1 2146,200.1" fill="#70ad47"/>
<polygon points="2168.6,186.7 2174.8,197.7 2162.4,197.7" fill="#70ad47"/>
<polygon points="2119.2,200.3 2125.4,211.3 2113,211.3" fill="#70ad47"/>
<polygon points="2132.7,202.1 2138.9,213.1 2126.5,213.1" fill="#70ad47"/>
<polygon points="2149.1,199.8 2155.3,210.8 2142.9,210.8" fill="#70ad47"/>
<polygon points="2162.6,194.8 2168.8,205.8 2156.4,205.8" fill="#70ad47"/>
<polygon points="2176.4,197.2 2182.6,208.2 2170.2,208.2" fill="#70ad47"/>
<polygon points="2192.1,193.5 2198.3,204.5 2185.9,204.5" fill="#70ad47"/>
<polygon points="2205.6,194.8 2211.8,205.8 2199.4,205.8" fill="#70ad47"/>
<polygon points="2222,191.9 2228.2,202.9 2215.8,202.9" fill="#70ad47"/>
<polygon points="2126.2,227.9 2132.4,238.9 2120,238.9" fill="#70ad47"/>
<polygon points="2140.5,230 2146.7,241 2134.3,241" fill="#70ad47"/>
<polygon points="2156.1,226.8 2162.3,237.8 2149.9,237.8" fill="#70ad47"/>
<polygon points="2106.7,241.4 2112.9,252.4 2100.5,252.4" fill="#70ad47"/>
<polygon points="2121,244.3 2127.2,255.3 2114.8,255.3" fill="#70ad47"/>
<polygon points="2137.1,240.9 2143.3,251.9 2130.9,251.9" fill="#70ad47"/>
<polygon points="2150.9,236.2 2157.1,247.2 2144.7,247.2" fill="#70ad47"/>
<polygon points="2164.7,238.3 2170.9,249.3 2158.5,249.3" fill="#70ad47"/>
<polygon points="2180.9,235.2 2187.1,246.2 2174.7,246.2" fill="#70ad47"/>
<polyline points="1969.2,221.9 2055.9,100.8" fill="none" stroke="#222" stroke-width="1" />
<polyline points="2094.2,293.5 2190.5,156.8" fill="none" stroke="#222" stroke-width="1" />
<polyline points="2024.6,147.7 2141.8,220.6" fill="none" stroke="#000" stroke-width="1.4" stroke-dasharray="6 4" />
<polygon points="2141.8,220.6 2124.2,216.7 2130.5,206.5" fill="#000"/>
<polygon points="2024.6,147.7 2035.1,149.7 2031.1,156.1" fill="#000"/>
<polygon points="2309,228.4 2314,240.4 2304,240.4" fill="#0000ff"/>
<polyline points="2309,372.9 2309,239.4" fill="none" stroke="#0000ff" stroke-width="1.3" />
<polygon points="2467.3,368.2 2455.3,373.2 2455.3,363.2" fill="#0000ff"/>
<polyline points="2300.7,368.2 2456.3,368.2" fill="none" stroke="#0000ff" stroke-width="1.3" />
<text x="2292.5" y="276" font-family='"Liberation Sans", sans-serif' font-size="38" font-weight="normal" font-style="normal" fill="#0000ff" text-anchor="middle" >p</text>
<rect x="2344.9" y="242.7" width="26.8" height="126.3" fill="#ed7d31" />
<rect x="2410.8" y="329.1" width="26.6" height="39.9" fill="#70ad47" />
<text x="2350" y="211.4" font-family='"Liberation Serif", serif' font-size="41" font-weight="normal" font-style="italic" fill="#000" text-anchor="middle" >p</text>
<text x="2369" y="229.1" font-family='"Liberation Serif", serif' font-size="20" font-weight="normal" font-style="italic" fill="#000" text-anchor="middle" >A</text>
<text x="2417.8" y="301.3" font-family='"Liberation Serif", serif' font-size="41" font-weight="normal" font-style="italic" fill="#000" text-anchor="middle" >p</text>
<text x="2438.4" y="318.2" font-family='"Liberation Serif", serif' font-size="20" font-weight="normal" font-style="italic" fill="#000" text-anchor="middle" >N</text>
<text x="2132.9" y="441.7" font-family='"Liberation Sans", sans-serif' font-size="33" font-weight="bold" font-style="normal" fill="#000" text-anchor="start" textLength="231.5" lengthAdjust="spacingAndGlyphs" >Entrory loss =-</text>
<text x="2385.5" y="449" font-family='"Liberation Serif", serif' font-size="58" font-weight="normal" font-style="normal" fill="#000" text-anchor="middle" textLength="41" lengthAdjust="spacingAndGlyphs" >∑</text>
<text x="2385.7" y="475" font-family='"Liberation Serif", serif' font-size="21" font-weight="normal" font-style="normal" fill="#000" text-anchor="middle" >i</text>
<text x="2424.4" y="440" font-family='"Liberation Serif", serif' font-size="42" font-weight="normal" font-style="italic" fill="#000" text-anchor="middle" >p</text>
<text x="2438.2" y="458" font-family='"Liberation Serif", serif' font-size="22" font-weight="normal" font-style="italic" fill="#000" text-anchor="middle" >i</text>
<text x="2451.2" y="438.2" font-family='"Liberation Serif", serif' font-size="42" font-weight="normal" font-style="normal" fill="#000" text-anchor="start" textLength="48.5" lengthAdjust="spacingAndGlyphs" >log</text>
<text x="2518" y="440" font-family='"Liberation Serif", serif' font-size="42" font-weight="normal" font-style="italic" fill="#000" text-anchor="middle" >p</text>
<text x="2531.9" y="458" font-family='"Liberation Serif", serif' font-size="22" font-weight="normal" font-style="italic" fill="#000" text-anchor="middle" >i</text>
<g transform="translate(65.9,1313) scale(0.9)">
<polygon points="26.4,15.2 0,30.5 -26.4,15.2 -26.4,-15.3 -0,-30.5 26.4,-15.3" fill="#000" stroke="#000" stroke-width="7" stroke-linejoin="round"/>
<g transform="rotate(0)" stroke="#000" stroke-width="10" stroke-linecap="round" stroke-linejoin="round" fill="none">
<polyline points="-8,-27 0,-19 8,-27"/>
</g>
<g transform="rotate(60)" stroke="#000" stroke-width="10" stroke-linecap="round" stroke-linejoin="round" fill="none">
<polyline points="-8,-27 0,-19 8,-27"/>
</g>
<g transform="rotate(120)" stroke="#000" stroke-width="10" stroke-linecap="round" stroke-linejoin="round" fill="none">
<polyline points="-8,-27 0,-19 8,-27"/>
</g>
<g transform="rotate(180)" stroke="#000" stroke-width="10" stroke-linecap="round" stroke-linejoin="round" fill="none">
<polyline points="-8,-27 0,-19 8,-27"/>
</g>
<g transform="rotate(240)" stroke="#000" stroke-width="10" stroke-linecap="round" stroke-linejoin="round" fill="none">
<polyline points="-8,-27 0,-19 8,-27"/>
</g>
<g transform="rotate(300)" stroke="#000" stroke-width="10" stroke-linecap="round" stroke-linejoin="round" fill="none">
<polyline points="-8,-27 0,-19 8,-27"/>
</g>
<g transform="rotate(0)" stroke="#5fdcf6" stroke-width="4.4" stroke-linecap="butt" fill="none">
<line x1="0" y1="-6" x2="0" y2="-28"/>
<polyline points="-8,-26.5 0,-18.5 8,-26.5"/>
</g>
<g transform="rotate(60)" stroke="#5fdcf6" stroke-width="4.4" stroke-linecap="butt" fill="none">
<line x1="0" y1="-6" x2="0" y2="-28"/>
<polyline points="-8,-26.5 0,-18.5 8,-26.5"/>
</g>
<g transform="rotate(120)" stroke="#5fdcf6" stroke-width="4.4" stroke-linecap="butt" fill="none">
<line x1="0" y1="-6" x2="0" y2="-28"/>
<polyline points="-8,-26.5 0,-18.5 8,-26.5"/>
</g>
<g transform="rotate(180)" stroke="#5fdcf6" stroke-width="4.4" stroke-linecap="butt" fill="none">
<line x1="0" y1="-6" x2="0" y2="-28"/>
<polyline points="-8,-26.5 0,-18.5 8,-26.5"/>
</g>
<g transform="rotate(240)" stroke="#5fdcf6" stroke-width="4.4" stroke-linecap="butt" fill="none">
<line x1="0" y1="-6" x2="0" y2="-28"/>
<polyline points="-8,-26.5 0,-18.5 8,-26.5"/>
</g>
<g transform="rotate(300)" stroke="#5fdcf6" stroke-width="4.4" stroke-linecap="butt" fill="none">
<line x1="0" y1="-6" x2="0" y2="-28"/>
<polyline points="-8,-26.5 0,-18.5 8,-26.5"/>
</g>
<circle cx="0" cy="0" r="5.6" fill="none" stroke="#5fdcf6" stroke-width="4"/>
</g>
<text x="113.2" y="1327" font-family='"Liberation Sans", sans-serif' font-size="36" font-weight="bold" font-style="normal" fill="#000" text-anchor="start" textLength="102" lengthAdjust="spacingAndGlyphs" >Frozen</text>
<g transform="translate(276,1306) scale(0.9,1) translate(-20,-27)">
<path d="M19 1.5 C27 2 32 9 32.5 19 C34.5 21 36.5 20 37.3 16.5 L39.2 17 C40.5 27 40 36 37 42 C33.5 49.5 27 53 20 53 C9 53 1 45.5 1 35 C1 27 6 21.5 10 16.5 C7.5 17 5.5 14.5 6 11.5 C6.5 7.5 10 4.8 13 4.5 C15 3 17 1.5 19 1.5 Z" fill="#f5650e" stroke="#000" stroke-width="3" stroke-linejoin="round"/>
<path d="M13.5 7.2 C10.5 8 9.3 11 11 13.2" fill="none" stroke="#000" stroke-width="1.7" stroke-linecap="round"/>
<path d="M17 30.5 C20 33 22.5 35.5 24.5 39.5 C26 37 27.5 36 28.8 34 C32 39 32 45 28 48.5 C24 51.5 15.5 51.5 11.5 48 C7.5 43 9.5 36 17 30.5 Z" fill="#ffd60a"/>
<path d="M19 42.5 C21 44.5 23 44.5 24 42.5 C27 46.5 25 50.5 20 50.5 C15 50.5 15 45.5 19 42.5 Z" fill="#fff"/>
</g>
<text x="312.5" y="1322" font-family='"Liberation Sans", sans-serif' font-size="36" font-weight="bold" font-style="normal" fill="#000" text-anchor="start" textLength="147" lengthAdjust="spacingAndGlyphs" >Learnable</text>
<circle cx="547.5" cy="1309.7" r="23.3" fill="none" stroke="#000" stroke-width="1.8"/>
<text x="547.5" y="1321.9" font-family='"Liberation Sans", sans-serif' font-size="33.8" font-weight="bold" font-style="italic" fill="#000" text-anchor="middle" >S</text>
<text x="585.4" y="1324.6" font-family='"Liberation Sans", sans-serif' font-size="34" font-weight="bold" font-style="normal" fill="#000" text-anchor="start" textLength="130" lengthAdjust="spacingAndGlyphs" >Softmax</text>
<circle cx="826.1" cy="1309.7" r="23.3" fill="none" stroke="#000" stroke-width="1.8"/>
<path d="M817.1 1309.7 L835.1 1309.7 M826.1 1300.7 L826.1 1318.7" stroke="#000" stroke-width="3.6" stroke-linecap="round" fill="none"/>
<text x="869.6" y="1322.1" font-family='"Liberation Sans", sans-serif' font-size="34" font-weight="bold" font-style="normal" fill="#000" text-anchor="start" textLength="268" lengthAdjust="spacingAndGlyphs" >Element wise sum</text>
<circle cx="1204.4" cy="1311.2" r="23.3" fill="none" stroke="#000" stroke-width="1.8"/>
<text x="1203.4" y="1322.1" font-family='"Liberation Sans", sans-serif' font-size="30.3" font-weight="bold" font-style="italic" fill="#000" text-anchor="middle" >C</text>
<text x="1242.2" y="1322.1" font-family='"Liberation Sans", sans-serif' font-size="34" font-weight="bold" font-style="normal" fill="#000" text-anchor="start" textLength="249.4" lengthAdjust="spacingAndGlyphs" >Cosine similarity</text>
<circle cx="1553.9" cy="1310" r="23.5" fill="none" stroke="#000" stroke-width="1.8"/>
<path d="M1546.9 1312.2 L1559.9 1312.2" stroke="#000" stroke-width="3.4" stroke-linecap="round"/>
<text x="1599.7" y="1322.1" font-family='"Liberation Sans", sans-serif' font-size="34" font-weight="bold" font-style="normal" fill="#000" text-anchor="start" textLength="262.4" lengthAdjust="spacingAndGlyphs" >Element wise sub</text>
<circle cx="1946.3" cy="1309.9" r="28.3" fill="none" stroke="#000" stroke-width="2.4"/>
<path d="M1928.8 1293.3 L1963.8 1328.3 M1963.8 1293.3 L1928.8 1328.3" stroke="#000" stroke-width="6.8" stroke-linecap="round" fill="none"/>
<text x="1996" y="1322.2" font-family='"Liberation Sans", sans-serif' font-size="34" font-weight="bold" font-style="normal" fill="#000" text-anchor="start" textLength="260.8" lengthAdjust="spacingAndGlyphs" >Element wise mul</text>
<circle cx="2326.5" cy="1312.3" r="29.5" fill="none" stroke="#000" stroke-width="1.8"/>
<text x="2305.3" y="1326.3" font-family='"Liberation Sans", sans-serif' font-size="41.3" font-weight="bold" font-style="normal" fill="#000" text-anchor="start" >1</text>
<path d="M2328 1315.2 L2341.2 1315.2" stroke="#000" stroke-width="3.2" stroke-linecap="round"/>
<text x="2368.1" y="1324.4" font-family='"Liberation Sans", sans-serif' font-size="34" font-weight="bold" font-style="normal" fill="#000" text-anchor="start" textLength="187.8" lengthAdjust="spacingAndGlyphs" >One minus x</text>
</svg>
</body></html>
